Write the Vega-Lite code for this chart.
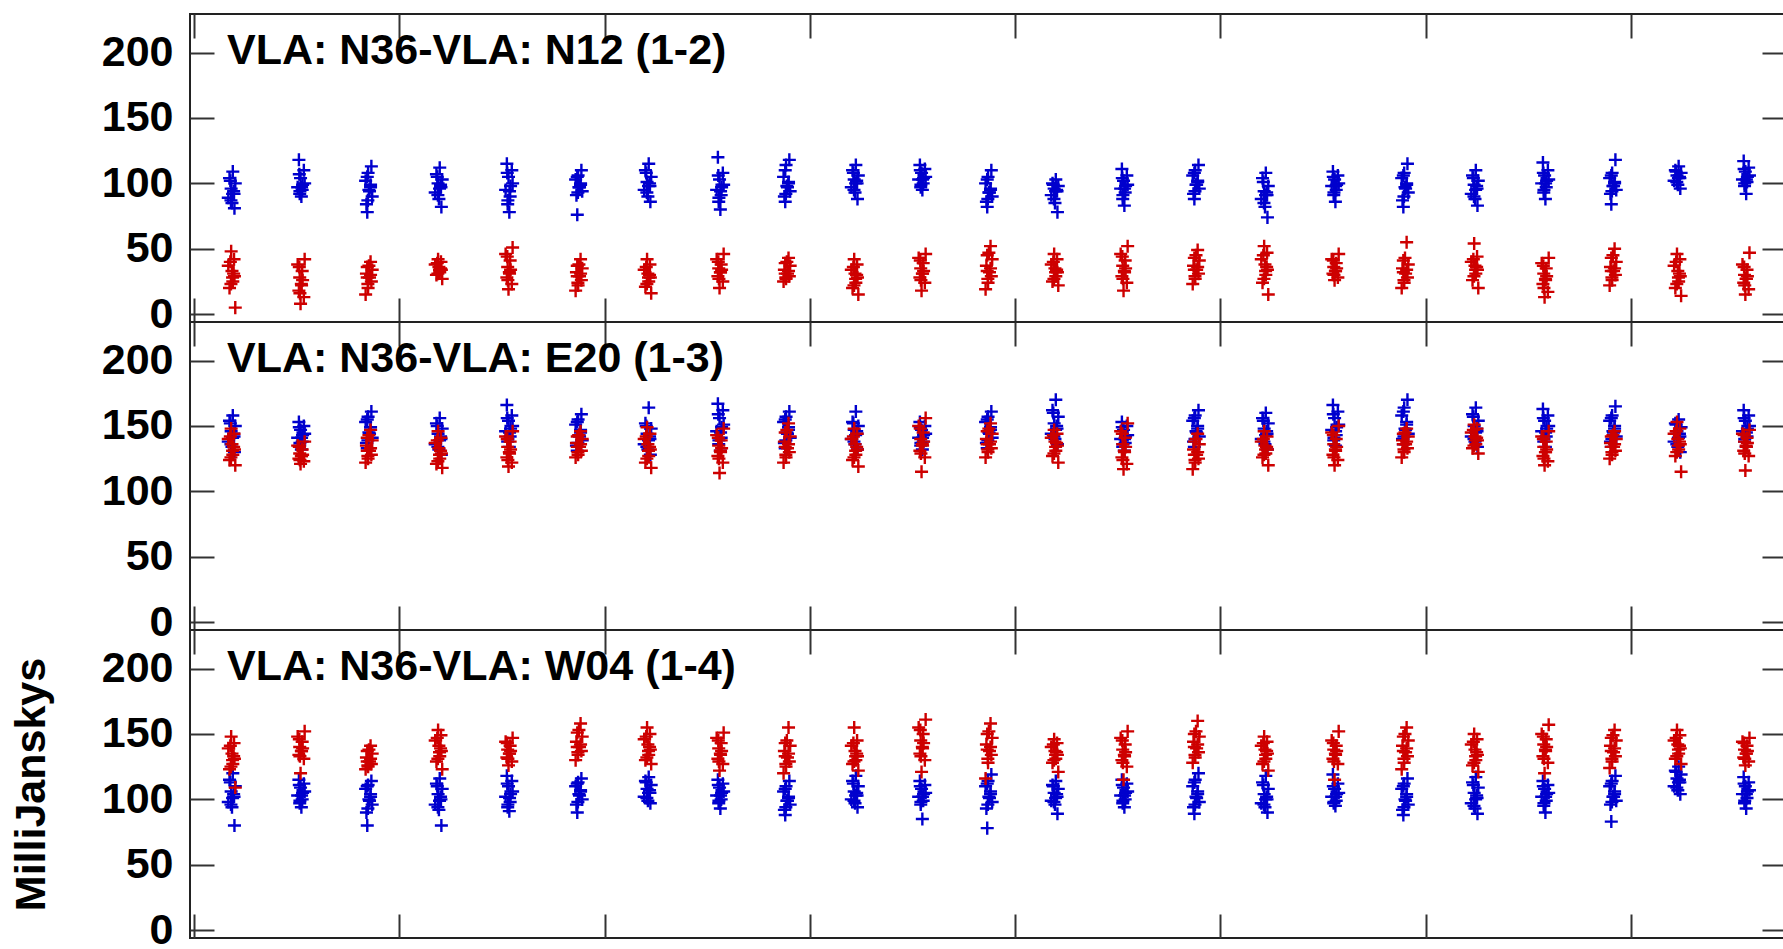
{
"$schema": "https://vega.github.io/schema/vega-lite/v6.json",
"padding": {"left": 9, "top": 12, "right": 0, "bottom": 0},
"background": "white",
"spacing": 0,
"bounds": "flush",
"config": {
 "view": {"stroke": "#222", "strokeWidth": 2},
 "axis": {"labelFont": "Liberation Sans", "labelFontWeight": "bold", "labelFontSize": 43, "labelColor": "#000", "tickColor": "#333", "tickWidth": 2, "domain": false, "grid": false, "titleFont": "Liberation Sans", "titleFontWeight": "bold", "titleFontSize": 43, "titleColor": "#000", "labelOverlap": false, "labelBound": false, "labelFlush": false},
 "axisX": {"minExtent": 0, "maxExtent": 0, "offset": 0}
},
"data": {"values": [
{"b":1,"p":"B","t":0.189,"v":109},{"b":1,"p":"B","t":0.173,"v":104},{"b":1,"p":"B","t":0.201,"v":100},{"b":1,"p":"B","t":0.181,"v":96},{"b":1,"p":"B","t":0.195,"v":92},{"b":1,"p":"B","t":0.167,"v":89},{"b":1,"p":"B","t":0.185,"v":85},{"b":1,"p":"B","t":0.197,"v":81},
{"b":1,"p":"B","t":0.511,"v":118},{"b":1,"p":"B","t":0.535,"v":110},{"b":1,"p":"B","t":0.519,"v":104},{"b":1,"p":"B","t":0.539,"v":100},{"b":1,"p":"B","t":0.505,"v":97},{"b":1,"p":"B","t":0.527,"v":95},{"b":1,"p":"B","t":0.515,"v":92},{"b":1,"p":"B","t":0.523,"v":90},
{"b":1,"p":"B","t":0.864,"v":113},{"b":1,"p":"B","t":0.848,"v":108},{"b":1,"p":"B","t":0.836,"v":102},{"b":1,"p":"B","t":0.860,"v":99},{"b":1,"p":"B","t":0.852,"v":95},{"b":1,"p":"B","t":0.868,"v":90},{"b":1,"p":"B","t":0.840,"v":84},{"b":1,"p":"B","t":0.844,"v":78},
{"b":1,"p":"B","t":1.197,"v":112},{"b":1,"p":"B","t":1.181,"v":107},{"b":1,"p":"B","t":1.209,"v":103},{"b":1,"p":"B","t":1.189,"v":100},{"b":1,"p":"B","t":1.203,"v":97},{"b":1,"p":"B","t":1.175,"v":93},{"b":1,"p":"B","t":1.193,"v":88},{"b":1,"p":"B","t":1.205,"v":82},
{"b":1,"p":"B","t":1.524,"v":115},{"b":1,"p":"B","t":1.548,"v":110},{"b":1,"p":"B","t":1.532,"v":105},{"b":1,"p":"B","t":1.552,"v":100},{"b":1,"p":"B","t":1.518,"v":95},{"b":1,"p":"B","t":1.540,"v":90},{"b":1,"p":"B","t":1.528,"v":84},{"b":1,"p":"B","t":1.536,"v":78},
{"b":1,"p":"B","t":1.887,"v":110},{"b":1,"p":"B","t":1.871,"v":106},{"b":1,"p":"B","t":1.859,"v":103},{"b":1,"p":"B","t":1.883,"v":100},{"b":1,"p":"B","t":1.875,"v":97},{"b":1,"p":"B","t":1.891,"v":94},{"b":1,"p":"B","t":1.863,"v":91},{"b":1,"p":"B","t":1.867,"v":76},
{"b":1,"p":"B","t":2.215,"v":115},{"b":1,"p":"B","t":2.199,"v":110},{"b":1,"p":"B","t":2.227,"v":105},{"b":1,"p":"B","t":2.207,"v":101},{"b":1,"p":"B","t":2.221,"v":98},{"b":1,"p":"B","t":2.193,"v":95},{"b":1,"p":"B","t":2.211,"v":90},{"b":1,"p":"B","t":2.223,"v":86},
{"b":1,"p":"B","t":2.552,"v":120},{"b":1,"p":"B","t":2.576,"v":108},{"b":1,"p":"B","t":2.560,"v":103},{"b":1,"p":"B","t":2.580,"v":99},{"b":1,"p":"B","t":2.546,"v":95},{"b":1,"p":"B","t":2.568,"v":91},{"b":1,"p":"B","t":2.556,"v":86},{"b":1,"p":"B","t":2.564,"v":80},
{"b":1,"p":"B","t":2.900,"v":118},{"b":1,"p":"B","t":2.884,"v":114},{"b":1,"p":"B","t":2.872,"v":105},{"b":1,"p":"B","t":2.896,"v":101},{"b":1,"p":"B","t":2.888,"v":98},{"b":1,"p":"B","t":2.904,"v":94},{"b":1,"p":"B","t":2.876,"v":90},{"b":1,"p":"B","t":2.880,"v":86},
{"b":1,"p":"B","t":3.224,"v":114},{"b":1,"p":"B","t":3.208,"v":110},{"b":1,"p":"B","t":3.236,"v":106},{"b":1,"p":"B","t":3.216,"v":103},{"b":1,"p":"B","t":3.230,"v":100},{"b":1,"p":"B","t":3.202,"v":97},{"b":1,"p":"B","t":3.220,"v":93},{"b":1,"p":"B","t":3.232,"v":88},
{"b":1,"p":"B","t":3.536,"v":114},{"b":1,"p":"B","t":3.560,"v":111},{"b":1,"p":"B","t":3.544,"v":108},{"b":1,"p":"B","t":3.564,"v":105},{"b":1,"p":"B","t":3.530,"v":103},{"b":1,"p":"B","t":3.552,"v":100},{"b":1,"p":"B","t":3.540,"v":97},{"b":1,"p":"B","t":3.548,"v":95},
{"b":1,"p":"B","t":3.884,"v":110},{"b":1,"p":"B","t":3.868,"v":105},{"b":1,"p":"B","t":3.856,"v":100},{"b":1,"p":"B","t":3.880,"v":96},{"b":1,"p":"B","t":3.872,"v":93},{"b":1,"p":"B","t":3.888,"v":90},{"b":1,"p":"B","t":3.860,"v":86},{"b":1,"p":"B","t":3.864,"v":82},
{"b":1,"p":"B","t":4.198,"v":103},{"b":1,"p":"B","t":4.182,"v":100},{"b":1,"p":"B","t":4.210,"v":98},{"b":1,"p":"B","t":4.190,"v":96},{"b":1,"p":"B","t":4.204,"v":94},{"b":1,"p":"B","t":4.176,"v":91},{"b":1,"p":"B","t":4.194,"v":85},{"b":1,"p":"B","t":4.206,"v":78},
{"b":1,"p":"B","t":4.520,"v":111},{"b":1,"p":"B","t":4.544,"v":106},{"b":1,"p":"B","t":4.528,"v":102},{"b":1,"p":"B","t":4.548,"v":99},{"b":1,"p":"B","t":4.514,"v":96},{"b":1,"p":"B","t":4.536,"v":93},{"b":1,"p":"B","t":4.524,"v":88},{"b":1,"p":"B","t":4.532,"v":83},
{"b":1,"p":"B","t":4.893,"v":114},{"b":1,"p":"B","t":4.877,"v":110},{"b":1,"p":"B","t":4.865,"v":106},{"b":1,"p":"B","t":4.889,"v":102},{"b":1,"p":"B","t":4.881,"v":99},{"b":1,"p":"B","t":4.897,"v":96},{"b":1,"p":"B","t":4.869,"v":92},{"b":1,"p":"B","t":4.873,"v":88},
{"b":1,"p":"B","t":5.221,"v":108},{"b":1,"p":"B","t":5.205,"v":104},{"b":1,"p":"B","t":5.233,"v":98},{"b":1,"p":"B","t":5.213,"v":94},{"b":1,"p":"B","t":5.227,"v":91},{"b":1,"p":"B","t":5.199,"v":88},{"b":1,"p":"B","t":5.217,"v":82},{"b":1,"p":"B","t":5.229,"v":74},
{"b":1,"p":"B","t":5.548,"v":109},{"b":1,"p":"B","t":5.572,"v":106},{"b":1,"p":"B","t":5.556,"v":103},{"b":1,"p":"B","t":5.576,"v":100},{"b":1,"p":"B","t":5.542,"v":98},{"b":1,"p":"B","t":5.564,"v":95},{"b":1,"p":"B","t":5.552,"v":91},{"b":1,"p":"B","t":5.560,"v":86},
{"b":1,"p":"B","t":5.911,"v":115},{"b":1,"p":"B","t":5.895,"v":108},{"b":1,"p":"B","t":5.883,"v":104},{"b":1,"p":"B","t":5.907,"v":100},{"b":1,"p":"B","t":5.899,"v":97},{"b":1,"p":"B","t":5.915,"v":93},{"b":1,"p":"B","t":5.887,"v":87},{"b":1,"p":"B","t":5.891,"v":82},
{"b":1,"p":"B","t":6.244,"v":110},{"b":1,"p":"B","t":6.228,"v":106},{"b":1,"p":"B","t":6.256,"v":102},{"b":1,"p":"B","t":6.236,"v":99},{"b":1,"p":"B","t":6.250,"v":96},{"b":1,"p":"B","t":6.222,"v":92},{"b":1,"p":"B","t":6.240,"v":88},{"b":1,"p":"B","t":6.252,"v":83},
{"b":1,"p":"B","t":6.571,"v":116},{"b":1,"p":"B","t":6.595,"v":110},{"b":1,"p":"B","t":6.579,"v":106},{"b":1,"p":"B","t":6.599,"v":103},{"b":1,"p":"B","t":6.565,"v":100},{"b":1,"p":"B","t":6.587,"v":97},{"b":1,"p":"B","t":6.575,"v":93},{"b":1,"p":"B","t":6.583,"v":88},
{"b":1,"p":"B","t":6.924,"v":118},{"b":1,"p":"B","t":6.908,"v":108},{"b":1,"p":"B","t":6.896,"v":104},{"b":1,"p":"B","t":6.920,"v":101},{"b":1,"p":"B","t":6.912,"v":98},{"b":1,"p":"B","t":6.928,"v":95},{"b":1,"p":"B","t":6.900,"v":92},{"b":1,"p":"B","t":6.904,"v":84},
{"b":1,"p":"B","t":7.232,"v":113},{"b":1,"p":"B","t":7.216,"v":110},{"b":1,"p":"B","t":7.244,"v":108},{"b":1,"p":"B","t":7.224,"v":106},{"b":1,"p":"B","t":7.238,"v":104},{"b":1,"p":"B","t":7.210,"v":102},{"b":1,"p":"B","t":7.228,"v":99},{"b":1,"p":"B","t":7.240,"v":96},
{"b":1,"p":"B","t":7.549,"v":117},{"b":1,"p":"B","t":7.573,"v":112},{"b":1,"p":"B","t":7.557,"v":109},{"b":1,"p":"B","t":7.577,"v":106},{"b":1,"p":"B","t":7.543,"v":103},{"b":1,"p":"B","t":7.565,"v":101},{"b":1,"p":"B","t":7.553,"v":98},{"b":1,"p":"B","t":7.561,"v":92},
{"b":1,"p":"R","t":0.181,"v":48},{"b":1,"p":"R","t":0.195,"v":42},{"b":1,"p":"R","t":0.167,"v":37},{"b":1,"p":"R","t":0.185,"v":33},{"b":1,"p":"R","t":0.197,"v":29},{"b":1,"p":"R","t":0.189,"v":25},{"b":1,"p":"R","t":0.173,"v":20},{"b":1,"p":"R","t":0.201,"v":5},
{"b":1,"p":"R","t":0.539,"v":42},{"b":1,"p":"R","t":0.505,"v":38},{"b":1,"p":"R","t":0.527,"v":33},{"b":1,"p":"R","t":0.515,"v":28},{"b":1,"p":"R","t":0.523,"v":23},{"b":1,"p":"R","t":0.511,"v":18},{"b":1,"p":"R","t":0.535,"v":13},{"b":1,"p":"R","t":0.519,"v":8},
{"b":1,"p":"R","t":0.860,"v":40},{"b":1,"p":"R","t":0.852,"v":37},{"b":1,"p":"R","t":0.868,"v":34},{"b":1,"p":"R","t":0.840,"v":31},{"b":1,"p":"R","t":0.844,"v":28},{"b":1,"p":"R","t":0.864,"v":25},{"b":1,"p":"R","t":0.848,"v":20},{"b":1,"p":"R","t":0.836,"v":15},
{"b":1,"p":"R","t":1.189,"v":42},{"b":1,"p":"R","t":1.203,"v":40},{"b":1,"p":"R","t":1.175,"v":38},{"b":1,"p":"R","t":1.193,"v":36},{"b":1,"p":"R","t":1.205,"v":34},{"b":1,"p":"R","t":1.197,"v":32},{"b":1,"p":"R","t":1.181,"v":30},{"b":1,"p":"R","t":1.209,"v":27},
{"b":1,"p":"R","t":1.552,"v":51},{"b":1,"p":"R","t":1.518,"v":46},{"b":1,"p":"R","t":1.540,"v":41},{"b":1,"p":"R","t":1.528,"v":36},{"b":1,"p":"R","t":1.536,"v":32},{"b":1,"p":"R","t":1.524,"v":28},{"b":1,"p":"R","t":1.548,"v":23},{"b":1,"p":"R","t":1.532,"v":19},
{"b":1,"p":"R","t":1.883,"v":42},{"b":1,"p":"R","t":1.875,"v":38},{"b":1,"p":"R","t":1.891,"v":35},{"b":1,"p":"R","t":1.863,"v":32},{"b":1,"p":"R","t":1.867,"v":29},{"b":1,"p":"R","t":1.887,"v":26},{"b":1,"p":"R","t":1.871,"v":22},{"b":1,"p":"R","t":1.859,"v":18},
{"b":1,"p":"R","t":2.207,"v":42},{"b":1,"p":"R","t":2.221,"v":38},{"b":1,"p":"R","t":2.193,"v":34},{"b":1,"p":"R","t":2.211,"v":31},{"b":1,"p":"R","t":2.223,"v":28},{"b":1,"p":"R","t":2.215,"v":25},{"b":1,"p":"R","t":2.199,"v":21},{"b":1,"p":"R","t":2.227,"v":16},
{"b":1,"p":"R","t":2.580,"v":46},{"b":1,"p":"R","t":2.546,"v":42},{"b":1,"p":"R","t":2.568,"v":38},{"b":1,"p":"R","t":2.556,"v":35},{"b":1,"p":"R","t":2.564,"v":32},{"b":1,"p":"R","t":2.552,"v":29},{"b":1,"p":"R","t":2.576,"v":25},{"b":1,"p":"R","t":2.560,"v":20},
{"b":1,"p":"R","t":2.896,"v":43},{"b":1,"p":"R","t":2.888,"v":40},{"b":1,"p":"R","t":2.904,"v":37},{"b":1,"p":"R","t":2.876,"v":34},{"b":1,"p":"R","t":2.880,"v":31},{"b":1,"p":"R","t":2.900,"v":29},{"b":1,"p":"R","t":2.884,"v":27},{"b":1,"p":"R","t":2.872,"v":25},
{"b":1,"p":"R","t":3.216,"v":42},{"b":1,"p":"R","t":3.230,"v":38},{"b":1,"p":"R","t":3.202,"v":34},{"b":1,"p":"R","t":3.220,"v":31},{"b":1,"p":"R","t":3.232,"v":28},{"b":1,"p":"R","t":3.224,"v":24},{"b":1,"p":"R","t":3.208,"v":20},{"b":1,"p":"R","t":3.236,"v":15},
{"b":1,"p":"R","t":3.564,"v":46},{"b":1,"p":"R","t":3.530,"v":43},{"b":1,"p":"R","t":3.552,"v":39},{"b":1,"p":"R","t":3.540,"v":35},{"b":1,"p":"R","t":3.548,"v":31},{"b":1,"p":"R","t":3.536,"v":28},{"b":1,"p":"R","t":3.560,"v":24},{"b":1,"p":"R","t":3.544,"v":18},
{"b":1,"p":"R","t":3.880,"v":52},{"b":1,"p":"R","t":3.872,"v":47},{"b":1,"p":"R","t":3.888,"v":42},{"b":1,"p":"R","t":3.860,"v":37},{"b":1,"p":"R","t":3.864,"v":33},{"b":1,"p":"R","t":3.884,"v":29},{"b":1,"p":"R","t":3.868,"v":24},{"b":1,"p":"R","t":3.856,"v":19},
{"b":1,"p":"R","t":4.190,"v":46},{"b":1,"p":"R","t":4.204,"v":42},{"b":1,"p":"R","t":4.176,"v":38},{"b":1,"p":"R","t":4.194,"v":35},{"b":1,"p":"R","t":4.206,"v":32},{"b":1,"p":"R","t":4.198,"v":29},{"b":1,"p":"R","t":4.182,"v":25},{"b":1,"p":"R","t":4.210,"v":22},
{"b":1,"p":"R","t":4.548,"v":52},{"b":1,"p":"R","t":4.514,"v":46},{"b":1,"p":"R","t":4.536,"v":41},{"b":1,"p":"R","t":4.524,"v":37},{"b":1,"p":"R","t":4.532,"v":33},{"b":1,"p":"R","t":4.520,"v":29},{"b":1,"p":"R","t":4.544,"v":24},{"b":1,"p":"R","t":4.528,"v":18},
{"b":1,"p":"R","t":4.889,"v":49},{"b":1,"p":"R","t":4.881,"v":45},{"b":1,"p":"R","t":4.897,"v":41},{"b":1,"p":"R","t":4.869,"v":37},{"b":1,"p":"R","t":4.873,"v":34},{"b":1,"p":"R","t":4.893,"v":31},{"b":1,"p":"R","t":4.877,"v":27},{"b":1,"p":"R","t":4.865,"v":23},
{"b":1,"p":"R","t":5.213,"v":52},{"b":1,"p":"R","t":5.227,"v":47},{"b":1,"p":"R","t":5.199,"v":42},{"b":1,"p":"R","t":5.217,"v":38},{"b":1,"p":"R","t":5.229,"v":34},{"b":1,"p":"R","t":5.221,"v":30},{"b":1,"p":"R","t":5.205,"v":24},{"b":1,"p":"R","t":5.233,"v":15},
{"b":1,"p":"R","t":5.576,"v":46},{"b":1,"p":"R","t":5.542,"v":42},{"b":1,"p":"R","t":5.564,"v":39},{"b":1,"p":"R","t":5.552,"v":36},{"b":1,"p":"R","t":5.560,"v":33},{"b":1,"p":"R","t":5.548,"v":31},{"b":1,"p":"R","t":5.572,"v":28},{"b":1,"p":"R","t":5.556,"v":26},
{"b":1,"p":"R","t":5.907,"v":55},{"b":1,"p":"R","t":5.899,"v":43},{"b":1,"p":"R","t":5.915,"v":38},{"b":1,"p":"R","t":5.887,"v":35},{"b":1,"p":"R","t":5.891,"v":32},{"b":1,"p":"R","t":5.911,"v":28},{"b":1,"p":"R","t":5.895,"v":24},{"b":1,"p":"R","t":5.883,"v":20},
{"b":1,"p":"R","t":6.236,"v":54},{"b":1,"p":"R","t":6.250,"v":44},{"b":1,"p":"R","t":6.222,"v":40},{"b":1,"p":"R","t":6.240,"v":37},{"b":1,"p":"R","t":6.252,"v":34},{"b":1,"p":"R","t":6.244,"v":31},{"b":1,"p":"R","t":6.228,"v":26},{"b":1,"p":"R","t":6.256,"v":20},
{"b":1,"p":"R","t":6.599,"v":43},{"b":1,"p":"R","t":6.565,"v":39},{"b":1,"p":"R","t":6.587,"v":35},{"b":1,"p":"R","t":6.575,"v":31},{"b":1,"p":"R","t":6.583,"v":27},{"b":1,"p":"R","t":6.571,"v":23},{"b":1,"p":"R","t":6.595,"v":17},{"b":1,"p":"R","t":6.579,"v":13},
{"b":1,"p":"R","t":6.920,"v":50},{"b":1,"p":"R","t":6.912,"v":45},{"b":1,"p":"R","t":6.928,"v":40},{"b":1,"p":"R","t":6.900,"v":36},{"b":1,"p":"R","t":6.904,"v":33},{"b":1,"p":"R","t":6.924,"v":30},{"b":1,"p":"R","t":6.908,"v":26},{"b":1,"p":"R","t":6.896,"v":22},
{"b":1,"p":"R","t":7.224,"v":46},{"b":1,"p":"R","t":7.238,"v":42},{"b":1,"p":"R","t":7.210,"v":37},{"b":1,"p":"R","t":7.228,"v":33},{"b":1,"p":"R","t":7.240,"v":29},{"b":1,"p":"R","t":7.232,"v":25},{"b":1,"p":"R","t":7.216,"v":20},{"b":1,"p":"R","t":7.244,"v":14},
{"b":1,"p":"R","t":7.577,"v":47},{"b":1,"p":"R","t":7.543,"v":38},{"b":1,"p":"R","t":7.565,"v":34},{"b":1,"p":"R","t":7.553,"v":30},{"b":1,"p":"R","t":7.561,"v":27},{"b":1,"p":"R","t":7.549,"v":24},{"b":1,"p":"R","t":7.573,"v":19},{"b":1,"p":"R","t":7.557,"v":15},
{"b":2,"p":"B","t":0.189,"v":158},{"b":2,"p":"B","t":0.173,"v":154},{"b":2,"p":"B","t":0.201,"v":150},{"b":2,"p":"B","t":0.181,"v":146},{"b":2,"p":"B","t":0.195,"v":142},{"b":2,"p":"B","t":0.167,"v":138},{"b":2,"p":"B","t":0.185,"v":134},{"b":2,"p":"B","t":0.197,"v":130},
{"b":2,"p":"B","t":0.511,"v":153},{"b":2,"p":"B","t":0.535,"v":150},{"b":2,"p":"B","t":0.519,"v":147},{"b":2,"p":"B","t":0.539,"v":144},{"b":2,"p":"B","t":0.505,"v":141},{"b":2,"p":"B","t":0.527,"v":138},{"b":2,"p":"B","t":0.515,"v":135},{"b":2,"p":"B","t":0.523,"v":132},
{"b":2,"p":"B","t":0.864,"v":161},{"b":2,"p":"B","t":0.848,"v":157},{"b":2,"p":"B","t":0.836,"v":153},{"b":2,"p":"B","t":0.860,"v":149},{"b":2,"p":"B","t":0.852,"v":145},{"b":2,"p":"B","t":0.868,"v":141},{"b":2,"p":"B","t":0.840,"v":137},{"b":2,"p":"B","t":0.844,"v":133},
{"b":2,"p":"B","t":1.197,"v":156},{"b":2,"p":"B","t":1.181,"v":152},{"b":2,"p":"B","t":1.209,"v":148},{"b":2,"p":"B","t":1.189,"v":144},{"b":2,"p":"B","t":1.203,"v":140},{"b":2,"p":"B","t":1.175,"v":136},{"b":2,"p":"B","t":1.193,"v":132},{"b":2,"p":"B","t":1.205,"v":128},
{"b":2,"p":"B","t":1.524,"v":166},{"b":2,"p":"B","t":1.548,"v":158},{"b":2,"p":"B","t":1.532,"v":154},{"b":2,"p":"B","t":1.552,"v":150},{"b":2,"p":"B","t":1.518,"v":146},{"b":2,"p":"B","t":1.540,"v":142},{"b":2,"p":"B","t":1.528,"v":138},{"b":2,"p":"B","t":1.536,"v":134},
{"b":2,"p":"B","t":1.887,"v":159},{"b":2,"p":"B","t":1.871,"v":155},{"b":2,"p":"B","t":1.859,"v":151},{"b":2,"p":"B","t":1.883,"v":147},{"b":2,"p":"B","t":1.875,"v":143},{"b":2,"p":"B","t":1.891,"v":139},{"b":2,"p":"B","t":1.863,"v":135},{"b":2,"p":"B","t":1.867,"v":131},
{"b":2,"p":"B","t":2.215,"v":164},{"b":2,"p":"B","t":2.199,"v":152},{"b":2,"p":"B","t":2.227,"v":148},{"b":2,"p":"B","t":2.207,"v":144},{"b":2,"p":"B","t":2.221,"v":140},{"b":2,"p":"B","t":2.193,"v":136},{"b":2,"p":"B","t":2.211,"v":132},{"b":2,"p":"B","t":2.223,"v":128},
{"b":2,"p":"B","t":2.552,"v":167},{"b":2,"p":"B","t":2.576,"v":162},{"b":2,"p":"B","t":2.560,"v":156},{"b":2,"p":"B","t":2.580,"v":151},{"b":2,"p":"B","t":2.546,"v":146},{"b":2,"p":"B","t":2.568,"v":141},{"b":2,"p":"B","t":2.556,"v":136},{"b":2,"p":"B","t":2.564,"v":131},
{"b":2,"p":"B","t":2.900,"v":161},{"b":2,"p":"B","t":2.884,"v":157},{"b":2,"p":"B","t":2.872,"v":153},{"b":2,"p":"B","t":2.896,"v":149},{"b":2,"p":"B","t":2.888,"v":145},{"b":2,"p":"B","t":2.904,"v":141},{"b":2,"p":"B","t":2.876,"v":137},{"b":2,"p":"B","t":2.880,"v":133},
{"b":2,"p":"B","t":3.224,"v":161},{"b":2,"p":"B","t":3.208,"v":153},{"b":2,"p":"B","t":3.236,"v":150},{"b":2,"p":"B","t":3.216,"v":147},{"b":2,"p":"B","t":3.230,"v":144},{"b":2,"p":"B","t":3.202,"v":140},{"b":2,"p":"B","t":3.220,"v":136},{"b":2,"p":"B","t":3.232,"v":132},
{"b":2,"p":"B","t":3.536,"v":153},{"b":2,"p":"B","t":3.560,"v":150},{"b":2,"p":"B","t":3.544,"v":147},{"b":2,"p":"B","t":3.564,"v":144},{"b":2,"p":"B","t":3.530,"v":141},{"b":2,"p":"B","t":3.552,"v":138},{"b":2,"p":"B","t":3.540,"v":135},{"b":2,"p":"B","t":3.548,"v":132},
{"b":2,"p":"B","t":3.884,"v":161},{"b":2,"p":"B","t":3.868,"v":157},{"b":2,"p":"B","t":3.856,"v":153},{"b":2,"p":"B","t":3.880,"v":149},{"b":2,"p":"B","t":3.872,"v":145},{"b":2,"p":"B","t":3.888,"v":141},{"b":2,"p":"B","t":3.860,"v":137},{"b":2,"p":"B","t":3.864,"v":133},
{"b":2,"p":"B","t":4.198,"v":170},{"b":2,"p":"B","t":4.182,"v":162},{"b":2,"p":"B","t":4.210,"v":157},{"b":2,"p":"B","t":4.190,"v":152},{"b":2,"p":"B","t":4.204,"v":148},{"b":2,"p":"B","t":4.176,"v":144},{"b":2,"p":"B","t":4.194,"v":140},{"b":2,"p":"B","t":4.206,"v":136},
{"b":2,"p":"B","t":4.520,"v":153},{"b":2,"p":"B","t":4.544,"v":150},{"b":2,"p":"B","t":4.528,"v":147},{"b":2,"p":"B","t":4.548,"v":143},{"b":2,"p":"B","t":4.514,"v":140},{"b":2,"p":"B","t":4.536,"v":137},{"b":2,"p":"B","t":4.524,"v":134},{"b":2,"p":"B","t":4.532,"v":131},
{"b":2,"p":"B","t":4.893,"v":162},{"b":2,"p":"B","t":4.877,"v":158},{"b":2,"p":"B","t":4.865,"v":154},{"b":2,"p":"B","t":4.889,"v":150},{"b":2,"p":"B","t":4.881,"v":146},{"b":2,"p":"B","t":4.897,"v":142},{"b":2,"p":"B","t":4.869,"v":138},{"b":2,"p":"B","t":4.873,"v":134},
{"b":2,"p":"B","t":5.221,"v":160},{"b":2,"p":"B","t":5.205,"v":156},{"b":2,"p":"B","t":5.233,"v":152},{"b":2,"p":"B","t":5.213,"v":148},{"b":2,"p":"B","t":5.227,"v":144},{"b":2,"p":"B","t":5.199,"v":140},{"b":2,"p":"B","t":5.217,"v":136},{"b":2,"p":"B","t":5.229,"v":132},
{"b":2,"p":"B","t":5.548,"v":166},{"b":2,"p":"B","t":5.572,"v":161},{"b":2,"p":"B","t":5.556,"v":156},{"b":2,"p":"B","t":5.576,"v":151},{"b":2,"p":"B","t":5.542,"v":147},{"b":2,"p":"B","t":5.564,"v":143},{"b":2,"p":"B","t":5.552,"v":139},{"b":2,"p":"B","t":5.560,"v":135},
{"b":2,"p":"B","t":5.911,"v":170},{"b":2,"p":"B","t":5.895,"v":164},{"b":2,"p":"B","t":5.883,"v":158},{"b":2,"p":"B","t":5.907,"v":153},{"b":2,"p":"B","t":5.899,"v":148},{"b":2,"p":"B","t":5.915,"v":144},{"b":2,"p":"B","t":5.887,"v":140},{"b":2,"p":"B","t":5.891,"v":136},
{"b":2,"p":"B","t":6.244,"v":164},{"b":2,"p":"B","t":6.228,"v":159},{"b":2,"p":"B","t":6.256,"v":154},{"b":2,"p":"B","t":6.236,"v":150},{"b":2,"p":"B","t":6.250,"v":146},{"b":2,"p":"B","t":6.222,"v":142},{"b":2,"p":"B","t":6.240,"v":138},{"b":2,"p":"B","t":6.252,"v":134},
{"b":2,"p":"B","t":6.571,"v":163},{"b":2,"p":"B","t":6.595,"v":158},{"b":2,"p":"B","t":6.579,"v":154},{"b":2,"p":"B","t":6.599,"v":150},{"b":2,"p":"B","t":6.565,"v":146},{"b":2,"p":"B","t":6.587,"v":142},{"b":2,"p":"B","t":6.575,"v":138},{"b":2,"p":"B","t":6.583,"v":134},
{"b":2,"p":"B","t":6.924,"v":165},{"b":2,"p":"B","t":6.908,"v":158},{"b":2,"p":"B","t":6.896,"v":154},{"b":2,"p":"B","t":6.920,"v":150},{"b":2,"p":"B","t":6.912,"v":146},{"b":2,"p":"B","t":6.928,"v":142},{"b":2,"p":"B","t":6.900,"v":138},{"b":2,"p":"B","t":6.904,"v":134},
{"b":2,"p":"B","t":7.232,"v":155},{"b":2,"p":"B","t":7.216,"v":152},{"b":2,"p":"B","t":7.244,"v":149},{"b":2,"p":"B","t":7.224,"v":146},{"b":2,"p":"B","t":7.238,"v":142},{"b":2,"p":"B","t":7.210,"v":138},{"b":2,"p":"B","t":7.228,"v":134},{"b":2,"p":"B","t":7.240,"v":130},
{"b":2,"p":"B","t":7.549,"v":162},{"b":2,"p":"B","t":7.573,"v":158},{"b":2,"p":"B","t":7.557,"v":154},{"b":2,"p":"B","t":7.577,"v":150},{"b":2,"p":"B","t":7.543,"v":146},{"b":2,"p":"B","t":7.565,"v":142},{"b":2,"p":"B","t":7.553,"v":138},{"b":2,"p":"B","t":7.561,"v":134},
{"b":2,"p":"R","t":0.181,"v":148},{"b":2,"p":"R","t":0.195,"v":144},{"b":2,"p":"R","t":0.167,"v":140},{"b":2,"p":"R","t":0.185,"v":136},{"b":2,"p":"R","t":0.197,"v":132},{"b":2,"p":"R","t":0.189,"v":128},{"b":2,"p":"R","t":0.173,"v":124},{"b":2,"p":"R","t":0.201,"v":120},
{"b":2,"p":"R","t":0.539,"v":138},{"b":2,"p":"R","t":0.505,"v":135},{"b":2,"p":"R","t":0.527,"v":132},{"b":2,"p":"R","t":0.515,"v":129},{"b":2,"p":"R","t":0.523,"v":127},{"b":2,"p":"R","t":0.511,"v":125},{"b":2,"p":"R","t":0.535,"v":123},{"b":2,"p":"R","t":0.519,"v":121},
{"b":2,"p":"R","t":0.860,"v":147},{"b":2,"p":"R","t":0.852,"v":143},{"b":2,"p":"R","t":0.868,"v":139},{"b":2,"p":"R","t":0.840,"v":135},{"b":2,"p":"R","t":0.844,"v":131},{"b":2,"p":"R","t":0.864,"v":128},{"b":2,"p":"R","t":0.848,"v":125},{"b":2,"p":"R","t":0.836,"v":122},
{"b":2,"p":"R","t":1.189,"v":146},{"b":2,"p":"R","t":1.203,"v":141},{"b":2,"p":"R","t":1.175,"v":137},{"b":2,"p":"R","t":1.193,"v":133},{"b":2,"p":"R","t":1.205,"v":129},{"b":2,"p":"R","t":1.197,"v":125},{"b":2,"p":"R","t":1.181,"v":121},{"b":2,"p":"R","t":1.209,"v":118},
{"b":2,"p":"R","t":1.552,"v":146},{"b":2,"p":"R","t":1.518,"v":142},{"b":2,"p":"R","t":1.540,"v":138},{"b":2,"p":"R","t":1.528,"v":134},{"b":2,"p":"R","t":1.536,"v":130},{"b":2,"p":"R","t":1.524,"v":126},{"b":2,"p":"R","t":1.548,"v":122},{"b":2,"p":"R","t":1.532,"v":119},
{"b":2,"p":"R","t":1.883,"v":146},{"b":2,"p":"R","t":1.875,"v":143},{"b":2,"p":"R","t":1.891,"v":140},{"b":2,"p":"R","t":1.863,"v":137},{"b":2,"p":"R","t":1.867,"v":134},{"b":2,"p":"R","t":1.887,"v":131},{"b":2,"p":"R","t":1.871,"v":128},{"b":2,"p":"R","t":1.859,"v":126},
{"b":2,"p":"R","t":2.207,"v":149},{"b":2,"p":"R","t":2.221,"v":144},{"b":2,"p":"R","t":2.193,"v":140},{"b":2,"p":"R","t":2.211,"v":136},{"b":2,"p":"R","t":2.223,"v":132},{"b":2,"p":"R","t":2.215,"v":127},{"b":2,"p":"R","t":2.199,"v":122},{"b":2,"p":"R","t":2.227,"v":118},
{"b":2,"p":"R","t":2.580,"v":148},{"b":2,"p":"R","t":2.546,"v":143},{"b":2,"p":"R","t":2.568,"v":139},{"b":2,"p":"R","t":2.556,"v":135},{"b":2,"p":"R","t":2.564,"v":131},{"b":2,"p":"R","t":2.552,"v":127},{"b":2,"p":"R","t":2.576,"v":122},{"b":2,"p":"R","t":2.560,"v":114},
{"b":2,"p":"R","t":2.896,"v":152},{"b":2,"p":"R","t":2.888,"v":147},{"b":2,"p":"R","t":2.904,"v":142},{"b":2,"p":"R","t":2.876,"v":138},{"b":2,"p":"R","t":2.880,"v":134},{"b":2,"p":"R","t":2.900,"v":130},{"b":2,"p":"R","t":2.884,"v":126},{"b":2,"p":"R","t":2.872,"v":122},
{"b":2,"p":"R","t":3.216,"v":148},{"b":2,"p":"R","t":3.230,"v":144},{"b":2,"p":"R","t":3.202,"v":140},{"b":2,"p":"R","t":3.220,"v":136},{"b":2,"p":"R","t":3.232,"v":132},{"b":2,"p":"R","t":3.224,"v":128},{"b":2,"p":"R","t":3.208,"v":124},{"b":2,"p":"R","t":3.236,"v":119},
{"b":2,"p":"R","t":3.564,"v":156},{"b":2,"p":"R","t":3.530,"v":150},{"b":2,"p":"R","t":3.552,"v":145},{"b":2,"p":"R","t":3.540,"v":140},{"b":2,"p":"R","t":3.548,"v":136},{"b":2,"p":"R","t":3.536,"v":131},{"b":2,"p":"R","t":3.560,"v":126},{"b":2,"p":"R","t":3.544,"v":115},
{"b":2,"p":"R","t":3.880,"v":152},{"b":2,"p":"R","t":3.872,"v":148},{"b":2,"p":"R","t":3.888,"v":144},{"b":2,"p":"R","t":3.860,"v":140},{"b":2,"p":"R","t":3.864,"v":136},{"b":2,"p":"R","t":3.884,"v":133},{"b":2,"p":"R","t":3.868,"v":130},{"b":2,"p":"R","t":3.856,"v":126},
{"b":2,"p":"R","t":4.190,"v":147},{"b":2,"p":"R","t":4.204,"v":144},{"b":2,"p":"R","t":4.176,"v":141},{"b":2,"p":"R","t":4.194,"v":138},{"b":2,"p":"R","t":4.206,"v":135},{"b":2,"p":"R","t":4.198,"v":131},{"b":2,"p":"R","t":4.182,"v":127},{"b":2,"p":"R","t":4.210,"v":122},
{"b":2,"p":"R","t":4.548,"v":152},{"b":2,"p":"R","t":4.514,"v":146},{"b":2,"p":"R","t":4.536,"v":141},{"b":2,"p":"R","t":4.524,"v":136},{"b":2,"p":"R","t":4.532,"v":131},{"b":2,"p":"R","t":4.520,"v":126},{"b":2,"p":"R","t":4.544,"v":121},{"b":2,"p":"R","t":4.528,"v":117},
{"b":2,"p":"R","t":4.889,"v":144},{"b":2,"p":"R","t":4.881,"v":140},{"b":2,"p":"R","t":4.897,"v":136},{"b":2,"p":"R","t":4.869,"v":132},{"b":2,"p":"R","t":4.873,"v":128},{"b":2,"p":"R","t":4.893,"v":125},{"b":2,"p":"R","t":4.877,"v":122},{"b":2,"p":"R","t":4.865,"v":117},
{"b":2,"p":"R","t":5.213,"v":146},{"b":2,"p":"R","t":5.227,"v":142},{"b":2,"p":"R","t":5.199,"v":138},{"b":2,"p":"R","t":5.217,"v":135},{"b":2,"p":"R","t":5.229,"v":132},{"b":2,"p":"R","t":5.221,"v":129},{"b":2,"p":"R","t":5.205,"v":126},{"b":2,"p":"R","t":5.233,"v":120},
{"b":2,"p":"R","t":5.576,"v":150},{"b":2,"p":"R","t":5.542,"v":145},{"b":2,"p":"R","t":5.564,"v":140},{"b":2,"p":"R","t":5.552,"v":136},{"b":2,"p":"R","t":5.560,"v":132},{"b":2,"p":"R","t":5.548,"v":128},{"b":2,"p":"R","t":5.572,"v":124},{"b":2,"p":"R","t":5.556,"v":120},
{"b":2,"p":"R","t":5.907,"v":148},{"b":2,"p":"R","t":5.899,"v":145},{"b":2,"p":"R","t":5.915,"v":142},{"b":2,"p":"R","t":5.887,"v":139},{"b":2,"p":"R","t":5.891,"v":136},{"b":2,"p":"R","t":5.911,"v":133},{"b":2,"p":"R","t":5.895,"v":130},{"b":2,"p":"R","t":5.883,"v":126},
{"b":2,"p":"R","t":6.236,"v":151},{"b":2,"p":"R","t":6.250,"v":148},{"b":2,"p":"R","t":6.222,"v":145},{"b":2,"p":"R","t":6.240,"v":142},{"b":2,"p":"R","t":6.252,"v":139},{"b":2,"p":"R","t":6.244,"v":136},{"b":2,"p":"R","t":6.228,"v":133},{"b":2,"p":"R","t":6.256,"v":129},
{"b":2,"p":"R","t":6.599,"v":146},{"b":2,"p":"R","t":6.565,"v":142},{"b":2,"p":"R","t":6.587,"v":138},{"b":2,"p":"R","t":6.575,"v":134},{"b":2,"p":"R","t":6.583,"v":130},{"b":2,"p":"R","t":6.571,"v":127},{"b":2,"p":"R","t":6.595,"v":123},{"b":2,"p":"R","t":6.579,"v":120},
{"b":2,"p":"R","t":6.920,"v":146},{"b":2,"p":"R","t":6.912,"v":143},{"b":2,"p":"R","t":6.928,"v":140},{"b":2,"p":"R","t":6.900,"v":137},{"b":2,"p":"R","t":6.904,"v":134},{"b":2,"p":"R","t":6.924,"v":131},{"b":2,"p":"R","t":6.908,"v":128},{"b":2,"p":"R","t":6.896,"v":125},
{"b":2,"p":"R","t":7.224,"v":153},{"b":2,"p":"R","t":7.238,"v":148},{"b":2,"p":"R","t":7.210,"v":144},{"b":2,"p":"R","t":7.228,"v":140},{"b":2,"p":"R","t":7.240,"v":136},{"b":2,"p":"R","t":7.232,"v":132},{"b":2,"p":"R","t":7.216,"v":127},{"b":2,"p":"R","t":7.244,"v":115},
{"b":2,"p":"R","t":7.577,"v":147},{"b":2,"p":"R","t":7.543,"v":144},{"b":2,"p":"R","t":7.565,"v":141},{"b":2,"p":"R","t":7.553,"v":138},{"b":2,"p":"R","t":7.561,"v":135},{"b":2,"p":"R","t":7.549,"v":131},{"b":2,"p":"R","t":7.573,"v":127},{"b":2,"p":"R","t":7.557,"v":116},
{"b":3,"p":"B","t":0.189,"v":120},{"b":3,"p":"B","t":0.173,"v":115},{"b":3,"p":"B","t":0.201,"v":110},{"b":3,"p":"B","t":0.181,"v":106},{"b":3,"p":"B","t":0.195,"v":102},{"b":3,"p":"B","t":0.167,"v":98},{"b":3,"p":"B","t":0.185,"v":94},{"b":3,"p":"B","t":0.197,"v":80},
{"b":3,"p":"B","t":0.511,"v":115},{"b":3,"p":"B","t":0.535,"v":112},{"b":3,"p":"B","t":0.519,"v":109},{"b":3,"p":"B","t":0.539,"v":106},{"b":3,"p":"B","t":0.505,"v":103},{"b":3,"p":"B","t":0.527,"v":100},{"b":3,"p":"B","t":0.515,"v":97},{"b":3,"p":"B","t":0.523,"v":94},
{"b":3,"p":"B","t":0.864,"v":114},{"b":3,"p":"B","t":0.848,"v":111},{"b":3,"p":"B","t":0.836,"v":108},{"b":3,"p":"B","t":0.860,"v":104},{"b":3,"p":"B","t":0.852,"v":100},{"b":3,"p":"B","t":0.868,"v":96},{"b":3,"p":"B","t":0.840,"v":90},{"b":3,"p":"B","t":0.844,"v":80},
{"b":3,"p":"B","t":1.197,"v":116},{"b":3,"p":"B","t":1.181,"v":112},{"b":3,"p":"B","t":1.209,"v":108},{"b":3,"p":"B","t":1.189,"v":104},{"b":3,"p":"B","t":1.203,"v":100},{"b":3,"p":"B","t":1.175,"v":96},{"b":3,"p":"B","t":1.193,"v":92},{"b":3,"p":"B","t":1.205,"v":80},
{"b":3,"p":"B","t":1.524,"v":118},{"b":3,"p":"B","t":1.548,"v":114},{"b":3,"p":"B","t":1.532,"v":110},{"b":3,"p":"B","t":1.552,"v":106},{"b":3,"p":"B","t":1.518,"v":102},{"b":3,"p":"B","t":1.540,"v":98},{"b":3,"p":"B","t":1.528,"v":94},{"b":3,"p":"B","t":1.536,"v":91},
{"b":3,"p":"B","t":1.887,"v":116},{"b":3,"p":"B","t":1.871,"v":113},{"b":3,"p":"B","t":1.859,"v":110},{"b":3,"p":"B","t":1.883,"v":107},{"b":3,"p":"B","t":1.875,"v":104},{"b":3,"p":"B","t":1.891,"v":100},{"b":3,"p":"B","t":1.863,"v":96},{"b":3,"p":"B","t":1.867,"v":90},
{"b":3,"p":"B","t":2.215,"v":117},{"b":3,"p":"B","t":2.199,"v":114},{"b":3,"p":"B","t":2.227,"v":111},{"b":3,"p":"B","t":2.207,"v":108},{"b":3,"p":"B","t":2.221,"v":105},{"b":3,"p":"B","t":2.193,"v":102},{"b":3,"p":"B","t":2.211,"v":99},{"b":3,"p":"B","t":2.223,"v":97},
{"b":3,"p":"B","t":2.552,"v":115},{"b":3,"p":"B","t":2.576,"v":112},{"b":3,"p":"B","t":2.560,"v":109},{"b":3,"p":"B","t":2.580,"v":106},{"b":3,"p":"B","t":2.546,"v":103},{"b":3,"p":"B","t":2.568,"v":100},{"b":3,"p":"B","t":2.556,"v":97},{"b":3,"p":"B","t":2.564,"v":93},
{"b":3,"p":"B","t":2.900,"v":114},{"b":3,"p":"B","t":2.884,"v":110},{"b":3,"p":"B","t":2.872,"v":106},{"b":3,"p":"B","t":2.896,"v":102},{"b":3,"p":"B","t":2.888,"v":99},{"b":3,"p":"B","t":2.904,"v":96},{"b":3,"p":"B","t":2.876,"v":92},{"b":3,"p":"B","t":2.880,"v":88},
{"b":3,"p":"B","t":3.224,"v":118},{"b":3,"p":"B","t":3.208,"v":114},{"b":3,"p":"B","t":3.236,"v":110},{"b":3,"p":"B","t":3.216,"v":106},{"b":3,"p":"B","t":3.230,"v":103},{"b":3,"p":"B","t":3.202,"v":100},{"b":3,"p":"B","t":3.220,"v":97},{"b":3,"p":"B","t":3.232,"v":94},
{"b":3,"p":"B","t":3.536,"v":114},{"b":3,"p":"B","t":3.560,"v":111},{"b":3,"p":"B","t":3.544,"v":108},{"b":3,"p":"B","t":3.564,"v":105},{"b":3,"p":"B","t":3.530,"v":102},{"b":3,"p":"B","t":3.552,"v":99},{"b":3,"p":"B","t":3.540,"v":96},{"b":3,"p":"B","t":3.548,"v":85},
{"b":3,"p":"B","t":3.884,"v":119},{"b":3,"p":"B","t":3.868,"v":114},{"b":3,"p":"B","t":3.856,"v":110},{"b":3,"p":"B","t":3.880,"v":106},{"b":3,"p":"B","t":3.872,"v":102},{"b":3,"p":"B","t":3.888,"v":98},{"b":3,"p":"B","t":3.860,"v":93},{"b":3,"p":"B","t":3.864,"v":78},
{"b":3,"p":"B","t":4.198,"v":114},{"b":3,"p":"B","t":4.182,"v":111},{"b":3,"p":"B","t":4.210,"v":108},{"b":3,"p":"B","t":4.190,"v":105},{"b":3,"p":"B","t":4.204,"v":102},{"b":3,"p":"B","t":4.176,"v":99},{"b":3,"p":"B","t":4.194,"v":96},{"b":3,"p":"B","t":4.206,"v":89},
{"b":3,"p":"B","t":4.520,"v":115},{"b":3,"p":"B","t":4.544,"v":112},{"b":3,"p":"B","t":4.528,"v":109},{"b":3,"p":"B","t":4.548,"v":106},{"b":3,"p":"B","t":4.514,"v":103},{"b":3,"p":"B","t":4.536,"v":100},{"b":3,"p":"B","t":4.524,"v":97},{"b":3,"p":"B","t":4.532,"v":94},
{"b":3,"p":"B","t":4.893,"v":120},{"b":3,"p":"B","t":4.877,"v":115},{"b":3,"p":"B","t":4.865,"v":110},{"b":3,"p":"B","t":4.889,"v":106},{"b":3,"p":"B","t":4.881,"v":102},{"b":3,"p":"B","t":4.897,"v":98},{"b":3,"p":"B","t":4.869,"v":94},{"b":3,"p":"B","t":4.873,"v":89},
{"b":3,"p":"B","t":5.221,"v":118},{"b":3,"p":"B","t":5.205,"v":113},{"b":3,"p":"B","t":5.233,"v":108},{"b":3,"p":"B","t":5.213,"v":104},{"b":3,"p":"B","t":5.227,"v":100},{"b":3,"p":"B","t":5.199,"v":97},{"b":3,"p":"B","t":5.217,"v":94},{"b":3,"p":"B","t":5.229,"v":90},
{"b":3,"p":"B","t":5.548,"v":119},{"b":3,"p":"B","t":5.572,"v":112},{"b":3,"p":"B","t":5.556,"v":108},{"b":3,"p":"B","t":5.576,"v":105},{"b":3,"p":"B","t":5.542,"v":102},{"b":3,"p":"B","t":5.564,"v":99},{"b":3,"p":"B","t":5.552,"v":97},{"b":3,"p":"B","t":5.560,"v":95},
{"b":3,"p":"B","t":5.911,"v":116},{"b":3,"p":"B","t":5.895,"v":112},{"b":3,"p":"B","t":5.883,"v":108},{"b":3,"p":"B","t":5.907,"v":104},{"b":3,"p":"B","t":5.899,"v":100},{"b":3,"p":"B","t":5.915,"v":96},{"b":3,"p":"B","t":5.887,"v":92},{"b":3,"p":"B","t":5.891,"v":88},
{"b":3,"p":"B","t":6.244,"v":117},{"b":3,"p":"B","t":6.228,"v":113},{"b":3,"p":"B","t":6.256,"v":109},{"b":3,"p":"B","t":6.236,"v":105},{"b":3,"p":"B","t":6.250,"v":101},{"b":3,"p":"B","t":6.222,"v":97},{"b":3,"p":"B","t":6.240,"v":93},{"b":3,"p":"B","t":6.252,"v":89},
{"b":3,"p":"B","t":6.571,"v":114},{"b":3,"p":"B","t":6.595,"v":111},{"b":3,"p":"B","t":6.579,"v":108},{"b":3,"p":"B","t":6.599,"v":105},{"b":3,"p":"B","t":6.565,"v":102},{"b":3,"p":"B","t":6.587,"v":99},{"b":3,"p":"B","t":6.575,"v":95},{"b":3,"p":"B","t":6.583,"v":90},
{"b":3,"p":"B","t":6.924,"v":118},{"b":3,"p":"B","t":6.908,"v":114},{"b":3,"p":"B","t":6.896,"v":110},{"b":3,"p":"B","t":6.920,"v":106},{"b":3,"p":"B","t":6.912,"v":102},{"b":3,"p":"B","t":6.928,"v":99},{"b":3,"p":"B","t":6.900,"v":96},{"b":3,"p":"B","t":6.904,"v":83},
{"b":3,"p":"B","t":7.232,"v":125},{"b":3,"p":"B","t":7.216,"v":122},{"b":3,"p":"B","t":7.244,"v":119},{"b":3,"p":"B","t":7.224,"v":116},{"b":3,"p":"B","t":7.238,"v":113},{"b":3,"p":"B","t":7.210,"v":110},{"b":3,"p":"B","t":7.228,"v":107},{"b":3,"p":"B","t":7.240,"v":104},
{"b":3,"p":"B","t":7.549,"v":117},{"b":3,"p":"B","t":7.573,"v":113},{"b":3,"p":"B","t":7.557,"v":110},{"b":3,"p":"B","t":7.577,"v":107},{"b":3,"p":"B","t":7.543,"v":104},{"b":3,"p":"B","t":7.565,"v":101},{"b":3,"p":"B","t":7.553,"v":97},{"b":3,"p":"B","t":7.561,"v":93},
{"b":3,"p":"R","t":0.181,"v":148},{"b":3,"p":"R","t":0.195,"v":143},{"b":3,"p":"R","t":0.167,"v":139},{"b":3,"p":"R","t":0.185,"v":135},{"b":3,"p":"R","t":0.197,"v":131},{"b":3,"p":"R","t":0.189,"v":127},{"b":3,"p":"R","t":0.173,"v":123},{"b":3,"p":"R","t":0.201,"v":109},
{"b":3,"p":"R","t":0.539,"v":152},{"b":3,"p":"R","t":0.505,"v":148},{"b":3,"p":"R","t":0.527,"v":144},{"b":3,"p":"R","t":0.515,"v":140},{"b":3,"p":"R","t":0.523,"v":137},{"b":3,"p":"R","t":0.511,"v":134},{"b":3,"p":"R","t":0.535,"v":131},{"b":3,"p":"R","t":0.519,"v":120},
{"b":3,"p":"R","t":0.860,"v":141},{"b":3,"p":"R","t":0.852,"v":138},{"b":3,"p":"R","t":0.868,"v":135},{"b":3,"p":"R","t":0.840,"v":132},{"b":3,"p":"R","t":0.844,"v":129},{"b":3,"p":"R","t":0.864,"v":127},{"b":3,"p":"R","t":0.848,"v":125},{"b":3,"p":"R","t":0.836,"v":123},
{"b":3,"p":"R","t":1.189,"v":153},{"b":3,"p":"R","t":1.203,"v":149},{"b":3,"p":"R","t":1.175,"v":145},{"b":3,"p":"R","t":1.193,"v":141},{"b":3,"p":"R","t":1.205,"v":137},{"b":3,"p":"R","t":1.197,"v":133},{"b":3,"p":"R","t":1.181,"v":129},{"b":3,"p":"R","t":1.209,"v":123},
{"b":3,"p":"R","t":1.552,"v":147},{"b":3,"p":"R","t":1.518,"v":144},{"b":3,"p":"R","t":1.540,"v":141},{"b":3,"p":"R","t":1.528,"v":138},{"b":3,"p":"R","t":1.536,"v":135},{"b":3,"p":"R","t":1.524,"v":132},{"b":3,"p":"R","t":1.548,"v":129},{"b":3,"p":"R","t":1.532,"v":126},
{"b":3,"p":"R","t":1.883,"v":158},{"b":3,"p":"R","t":1.875,"v":153},{"b":3,"p":"R","t":1.891,"v":148},{"b":3,"p":"R","t":1.863,"v":144},{"b":3,"p":"R","t":1.867,"v":140},{"b":3,"p":"R","t":1.887,"v":137},{"b":3,"p":"R","t":1.871,"v":134},{"b":3,"p":"R","t":1.859,"v":130},
{"b":3,"p":"R","t":2.207,"v":155},{"b":3,"p":"R","t":2.221,"v":150},{"b":3,"p":"R","t":2.193,"v":146},{"b":3,"p":"R","t":2.211,"v":142},{"b":3,"p":"R","t":2.223,"v":138},{"b":3,"p":"R","t":2.215,"v":134},{"b":3,"p":"R","t":2.199,"v":130},{"b":3,"p":"R","t":2.227,"v":127},
{"b":3,"p":"R","t":2.580,"v":151},{"b":3,"p":"R","t":2.546,"v":147},{"b":3,"p":"R","t":2.568,"v":143},{"b":3,"p":"R","t":2.556,"v":139},{"b":3,"p":"R","t":2.564,"v":135},{"b":3,"p":"R","t":2.552,"v":131},{"b":3,"p":"R","t":2.576,"v":127},{"b":3,"p":"R","t":2.560,"v":122},
{"b":3,"p":"R","t":2.896,"v":155},{"b":3,"p":"R","t":2.888,"v":145},{"b":3,"p":"R","t":2.904,"v":141},{"b":3,"p":"R","t":2.876,"v":137},{"b":3,"p":"R","t":2.880,"v":133},{"b":3,"p":"R","t":2.900,"v":129},{"b":3,"p":"R","t":2.884,"v":125},{"b":3,"p":"R","t":2.872,"v":120},
{"b":3,"p":"R","t":3.216,"v":155},{"b":3,"p":"R","t":3.230,"v":145},{"b":3,"p":"R","t":3.202,"v":141},{"b":3,"p":"R","t":3.220,"v":137},{"b":3,"p":"R","t":3.232,"v":133},{"b":3,"p":"R","t":3.224,"v":130},{"b":3,"p":"R","t":3.208,"v":127},{"b":3,"p":"R","t":3.236,"v":122},
{"b":3,"p":"R","t":3.564,"v":161},{"b":3,"p":"R","t":3.530,"v":155},{"b":3,"p":"R","t":3.552,"v":150},{"b":3,"p":"R","t":3.540,"v":145},{"b":3,"p":"R","t":3.548,"v":140},{"b":3,"p":"R","t":3.536,"v":135},{"b":3,"p":"R","t":3.560,"v":130},{"b":3,"p":"R","t":3.544,"v":121},
{"b":3,"p":"R","t":3.880,"v":158},{"b":3,"p":"R","t":3.872,"v":152},{"b":3,"p":"R","t":3.888,"v":147},{"b":3,"p":"R","t":3.860,"v":142},{"b":3,"p":"R","t":3.864,"v":138},{"b":3,"p":"R","t":3.884,"v":134},{"b":3,"p":"R","t":3.868,"v":128},{"b":3,"p":"R","t":3.856,"v":116},
{"b":3,"p":"R","t":4.190,"v":146},{"b":3,"p":"R","t":4.204,"v":143},{"b":3,"p":"R","t":4.176,"v":140},{"b":3,"p":"R","t":4.194,"v":137},{"b":3,"p":"R","t":4.206,"v":134},{"b":3,"p":"R","t":4.198,"v":131},{"b":3,"p":"R","t":4.182,"v":128},{"b":3,"p":"R","t":4.210,"v":121},
{"b":3,"p":"R","t":4.548,"v":152},{"b":3,"p":"R","t":4.514,"v":147},{"b":3,"p":"R","t":4.536,"v":142},{"b":3,"p":"R","t":4.524,"v":138},{"b":3,"p":"R","t":4.532,"v":134},{"b":3,"p":"R","t":4.520,"v":130},{"b":3,"p":"R","t":4.544,"v":125},{"b":3,"p":"R","t":4.528,"v":115},
{"b":3,"p":"R","t":4.889,"v":160},{"b":3,"p":"R","t":4.881,"v":152},{"b":3,"p":"R","t":4.897,"v":148},{"b":3,"p":"R","t":4.869,"v":144},{"b":3,"p":"R","t":4.873,"v":140},{"b":3,"p":"R","t":4.893,"v":136},{"b":3,"p":"R","t":4.877,"v":132},{"b":3,"p":"R","t":4.865,"v":128},
{"b":3,"p":"R","t":5.213,"v":148},{"b":3,"p":"R","t":5.227,"v":144},{"b":3,"p":"R","t":5.199,"v":141},{"b":3,"p":"R","t":5.217,"v":138},{"b":3,"p":"R","t":5.229,"v":135},{"b":3,"p":"R","t":5.221,"v":131},{"b":3,"p":"R","t":5.205,"v":127},{"b":3,"p":"R","t":5.233,"v":122},
{"b":3,"p":"R","t":5.576,"v":152},{"b":3,"p":"R","t":5.542,"v":145},{"b":3,"p":"R","t":5.564,"v":141},{"b":3,"p":"R","t":5.552,"v":138},{"b":3,"p":"R","t":5.560,"v":135},{"b":3,"p":"R","t":5.548,"v":131},{"b":3,"p":"R","t":5.572,"v":127},{"b":3,"p":"R","t":5.556,"v":115},
{"b":3,"p":"R","t":5.907,"v":155},{"b":3,"p":"R","t":5.899,"v":150},{"b":3,"p":"R","t":5.915,"v":145},{"b":3,"p":"R","t":5.887,"v":141},{"b":3,"p":"R","t":5.891,"v":137},{"b":3,"p":"R","t":5.911,"v":133},{"b":3,"p":"R","t":5.895,"v":128},{"b":3,"p":"R","t":5.883,"v":123},
{"b":3,"p":"R","t":6.236,"v":150},{"b":3,"p":"R","t":6.250,"v":146},{"b":3,"p":"R","t":6.222,"v":142},{"b":3,"p":"R","t":6.240,"v":138},{"b":3,"p":"R","t":6.252,"v":134},{"b":3,"p":"R","t":6.244,"v":130},{"b":3,"p":"R","t":6.228,"v":126},{"b":3,"p":"R","t":6.256,"v":121},
{"b":3,"p":"R","t":6.599,"v":157},{"b":3,"p":"R","t":6.565,"v":150},{"b":3,"p":"R","t":6.587,"v":146},{"b":3,"p":"R","t":6.575,"v":142},{"b":3,"p":"R","t":6.583,"v":138},{"b":3,"p":"R","t":6.571,"v":133},{"b":3,"p":"R","t":6.595,"v":128},{"b":3,"p":"R","t":6.579,"v":120},
{"b":3,"p":"R","t":6.920,"v":153},{"b":3,"p":"R","t":6.912,"v":149},{"b":3,"p":"R","t":6.928,"v":145},{"b":3,"p":"R","t":6.900,"v":141},{"b":3,"p":"R","t":6.904,"v":137},{"b":3,"p":"R","t":6.924,"v":133},{"b":3,"p":"R","t":6.908,"v":129},{"b":3,"p":"R","t":6.896,"v":124},
{"b":3,"p":"R","t":7.224,"v":153},{"b":3,"p":"R","t":7.238,"v":149},{"b":3,"p":"R","t":7.210,"v":145},{"b":3,"p":"R","t":7.228,"v":142},{"b":3,"p":"R","t":7.240,"v":139},{"b":3,"p":"R","t":7.232,"v":135},{"b":3,"p":"R","t":7.216,"v":131},{"b":3,"p":"R","t":7.244,"v":127},
{"b":3,"p":"R","t":7.577,"v":147},{"b":3,"p":"R","t":7.543,"v":144},{"b":3,"p":"R","t":7.565,"v":141},{"b":3,"p":"R","t":7.553,"v":138},{"b":3,"p":"R","t":7.561,"v":135},{"b":3,"p":"R","t":7.549,"v":132},{"b":3,"p":"R","t":7.573,"v":129},{"b":3,"p":"R","t":7.557,"v":126},
{"b":1,"p":"B","t":0.177,"v":102},{"b":1,"p":"B","t":0.193,"v":94},{"b":1,"p":"B","t":0.188,"v":92},{"b":1,"p":"B","t":0.180,"v":87},
{"b":1,"p":"B","t":0.513,"v":107},{"b":1,"p":"B","t":0.529,"v":99},{"b":1,"p":"B","t":0.524,"v":97},{"b":1,"p":"B","t":0.516,"v":94},
{"b":1,"p":"B","t":0.844,"v":105},{"b":1,"p":"B","t":0.860,"v":97},{"b":1,"p":"B","t":0.855,"v":94},{"b":1,"p":"B","t":0.847,"v":87},
{"b":1,"p":"B","t":1.185,"v":105},{"b":1,"p":"B","t":1.201,"v":99},{"b":1,"p":"B","t":1.196,"v":96},{"b":1,"p":"B","t":1.188,"v":91},
{"b":1,"p":"B","t":1.526,"v":108},{"b":1,"p":"B","t":1.542,"v":98},{"b":1,"p":"B","t":1.537,"v":94},{"b":1,"p":"B","t":1.529,"v":87},
{"b":1,"p":"B","t":1.867,"v":105},{"b":1,"p":"B","t":1.883,"v":99},{"b":1,"p":"B","t":1.878,"v":97},{"b":1,"p":"B","t":1.870,"v":93},
{"b":1,"p":"B","t":2.203,"v":108},{"b":1,"p":"B","t":2.219,"v":100},{"b":1,"p":"B","t":2.214,"v":98},{"b":1,"p":"B","t":2.206,"v":93},
{"b":1,"p":"B","t":2.554,"v":106},{"b":1,"p":"B","t":2.570,"v":97},{"b":1,"p":"B","t":2.565,"v":94},{"b":1,"p":"B","t":2.557,"v":89},
{"b":1,"p":"B","t":2.880,"v":110},{"b":1,"p":"B","t":2.896,"v":100},{"b":1,"p":"B","t":2.891,"v":97},{"b":1,"p":"B","t":2.883,"v":92},
{"b":1,"p":"B","t":3.212,"v":108},{"b":1,"p":"B","t":3.228,"v":102},{"b":1,"p":"B","t":3.223,"v":100},{"b":1,"p":"B","t":3.215,"v":95},
{"b":1,"p":"B","t":3.538,"v":110},{"b":1,"p":"B","t":3.554,"v":104},{"b":1,"p":"B","t":3.549,"v":103},{"b":1,"p":"B","t":3.541,"v":99},
{"b":1,"p":"B","t":3.864,"v":103},{"b":1,"p":"B","t":3.880,"v":95},{"b":1,"p":"B","t":3.875,"v":93},{"b":1,"p":"B","t":3.867,"v":88},
{"b":1,"p":"B","t":4.186,"v":99},{"b":1,"p":"B","t":4.202,"v":95},{"b":1,"p":"B","t":4.197,"v":94},{"b":1,"p":"B","t":4.189,"v":88},
{"b":1,"p":"B","t":4.522,"v":104},{"b":1,"p":"B","t":4.538,"v":98},{"b":1,"p":"B","t":4.533,"v":96},{"b":1,"p":"B","t":4.525,"v":91},
{"b":1,"p":"B","t":4.873,"v":108},{"b":1,"p":"B","t":4.889,"v":101},{"b":1,"p":"B","t":4.884,"v":99},{"b":1,"p":"B","t":4.876,"v":94},
{"b":1,"p":"B","t":5.209,"v":101},{"b":1,"p":"B","t":5.225,"v":93},{"b":1,"p":"B","t":5.220,"v":91},{"b":1,"p":"B","t":5.212,"v":85},
{"b":1,"p":"B","t":5.550,"v":105},{"b":1,"p":"B","t":5.566,"v":99},{"b":1,"p":"B","t":5.561,"v":98},{"b":1,"p":"B","t":5.553,"v":93},
{"b":1,"p":"B","t":5.891,"v":106},{"b":1,"p":"B","t":5.907,"v":99},{"b":1,"p":"B","t":5.902,"v":96},{"b":1,"p":"B","t":5.894,"v":90},
{"b":1,"p":"B","t":6.232,"v":104},{"b":1,"p":"B","t":6.248,"v":98},{"b":1,"p":"B","t":6.243,"v":95},{"b":1,"p":"B","t":6.235,"v":90},
{"b":1,"p":"B","t":6.573,"v":108},{"b":1,"p":"B","t":6.589,"v":102},{"b":1,"p":"B","t":6.584,"v":100},{"b":1,"p":"B","t":6.576,"v":95},
{"b":1,"p":"B","t":6.904,"v":106},{"b":1,"p":"B","t":6.920,"v":100},{"b":1,"p":"B","t":6.915,"v":98},{"b":1,"p":"B","t":6.907,"v":94},
{"b":1,"p":"B","t":7.220,"v":109},{"b":1,"p":"B","t":7.236,"v":105},{"b":1,"p":"B","t":7.231,"v":104},{"b":1,"p":"B","t":7.223,"v":101},
{"b":1,"p":"B","t":7.551,"v":111},{"b":1,"p":"B","t":7.567,"v":105},{"b":1,"p":"B","t":7.562,"v":103},{"b":1,"p":"B","t":7.554,"v":100},
{"b":1,"p":"R","t":0.177,"v":40},{"b":1,"p":"R","t":0.193,"v":31},{"b":1,"p":"R","t":0.188,"v":28},{"b":1,"p":"R","t":0.180,"v":23},
{"b":1,"p":"R","t":0.513,"v":36},{"b":1,"p":"R","t":0.529,"v":26},{"b":1,"p":"R","t":0.524,"v":22},{"b":1,"p":"R","t":0.516,"v":16},
{"b":1,"p":"R","t":0.844,"v":36},{"b":1,"p":"R","t":0.860,"v":30},{"b":1,"p":"R","t":0.855,"v":28},{"b":1,"p":"R","t":0.847,"v":23},
{"b":1,"p":"R","t":1.185,"v":39},{"b":1,"p":"R","t":1.201,"v":35},{"b":1,"p":"R","t":1.196,"v":34},{"b":1,"p":"R","t":1.188,"v":31},
{"b":1,"p":"R","t":1.526,"v":44},{"b":1,"p":"R","t":1.542,"v":34},{"b":1,"p":"R","t":1.537,"v":31},{"b":1,"p":"R","t":1.529,"v":26},
{"b":1,"p":"R","t":1.867,"v":37},{"b":1,"p":"R","t":1.883,"v":31},{"b":1,"p":"R","t":1.878,"v":29},{"b":1,"p":"R","t":1.870,"v":24},
{"b":1,"p":"R","t":2.203,"v":36},{"b":1,"p":"R","t":2.219,"v":30},{"b":1,"p":"R","t":2.214,"v":28},{"b":1,"p":"R","t":2.206,"v":23},
{"b":1,"p":"R","t":2.554,"v":40},{"b":1,"p":"R","t":2.570,"v":34},{"b":1,"p":"R","t":2.565,"v":32},{"b":1,"p":"R","t":2.557,"v":27},
{"b":1,"p":"R","t":2.880,"v":39},{"b":1,"p":"R","t":2.896,"v":33},{"b":1,"p":"R","t":2.891,"v":31},{"b":1,"p":"R","t":2.883,"v":28},
{"b":1,"p":"R","t":3.212,"v":36},{"b":1,"p":"R","t":3.228,"v":30},{"b":1,"p":"R","t":3.223,"v":27},{"b":1,"p":"R","t":3.215,"v":22},
{"b":1,"p":"R","t":3.538,"v":41},{"b":1,"p":"R","t":3.554,"v":33},{"b":1,"p":"R","t":3.549,"v":31},{"b":1,"p":"R","t":3.541,"v":26},
{"b":1,"p":"R","t":3.864,"v":45},{"b":1,"p":"R","t":3.880,"v":35},{"b":1,"p":"R","t":3.875,"v":32},{"b":1,"p":"R","t":3.867,"v":27},
{"b":1,"p":"R","t":4.186,"v":40},{"b":1,"p":"R","t":4.202,"v":34},{"b":1,"p":"R","t":4.197,"v":32},{"b":1,"p":"R","t":4.189,"v":27},
{"b":1,"p":"R","t":4.522,"v":44},{"b":1,"p":"R","t":4.538,"v":35},{"b":1,"p":"R","t":4.533,"v":32},{"b":1,"p":"R","t":4.525,"v":27},
{"b":1,"p":"R","t":4.873,"v":43},{"b":1,"p":"R","t":4.889,"v":36},{"b":1,"p":"R","t":4.884,"v":34},{"b":1,"p":"R","t":4.876,"v":29},
{"b":1,"p":"R","t":5.209,"v":45},{"b":1,"p":"R","t":5.225,"v":36},{"b":1,"p":"R","t":5.220,"v":33},{"b":1,"p":"R","t":5.212,"v":27},
{"b":1,"p":"R","t":5.550,"v":41},{"b":1,"p":"R","t":5.566,"v":35},{"b":1,"p":"R","t":5.561,"v":33},{"b":1,"p":"R","t":5.553,"v":30},
{"b":1,"p":"R","t":5.891,"v":41},{"b":1,"p":"R","t":5.907,"v":34},{"b":1,"p":"R","t":5.902,"v":31},{"b":1,"p":"R","t":5.894,"v":26},
{"b":1,"p":"R","t":6.232,"v":42},{"b":1,"p":"R","t":6.248,"v":36},{"b":1,"p":"R","t":6.243,"v":34},{"b":1,"p":"R","t":6.235,"v":29},
{"b":1,"p":"R","t":6.573,"v":37},{"b":1,"p":"R","t":6.589,"v":29},{"b":1,"p":"R","t":6.584,"v":26},{"b":1,"p":"R","t":6.576,"v":20},
{"b":1,"p":"R","t":6.904,"v":43},{"b":1,"p":"R","t":6.920,"v":35},{"b":1,"p":"R","t":6.915,"v":33},{"b":1,"p":"R","t":6.907,"v":28},
{"b":1,"p":"R","t":7.220,"v":40},{"b":1,"p":"R","t":7.236,"v":31},{"b":1,"p":"R","t":7.231,"v":28},{"b":1,"p":"R","t":7.223,"v":23},
{"b":1,"p":"R","t":7.551,"v":36},{"b":1,"p":"R","t":7.567,"v":29},{"b":1,"p":"R","t":7.562,"v":27},{"b":1,"p":"R","t":7.554,"v":22},
{"b":2,"p":"B","t":0.177,"v":152},{"b":2,"p":"B","t":0.193,"v":144},{"b":2,"p":"B","t":0.188,"v":141},{"b":2,"p":"B","t":0.180,"v":136},
{"b":2,"p":"B","t":0.513,"v":149},{"b":2,"p":"B","t":0.529,"v":143},{"b":2,"p":"B","t":0.524,"v":141},{"b":2,"p":"B","t":0.516,"v":137},
{"b":2,"p":"B","t":0.844,"v":155},{"b":2,"p":"B","t":0.860,"v":147},{"b":2,"p":"B","t":0.855,"v":144},{"b":2,"p":"B","t":0.847,"v":139},
{"b":2,"p":"B","t":1.185,"v":150},{"b":2,"p":"B","t":1.201,"v":142},{"b":2,"p":"B","t":1.196,"v":139},{"b":2,"p":"B","t":1.188,"v":134},
{"b":2,"p":"B","t":1.526,"v":156},{"b":2,"p":"B","t":1.542,"v":148},{"b":2,"p":"B","t":1.537,"v":145},{"b":2,"p":"B","t":1.529,"v":140},
{"b":2,"p":"B","t":1.867,"v":153},{"b":2,"p":"B","t":1.883,"v":145},{"b":2,"p":"B","t":1.878,"v":142},{"b":2,"p":"B","t":1.870,"v":137},
{"b":2,"p":"B","t":2.203,"v":150},{"b":2,"p":"B","t":2.219,"v":142},{"b":2,"p":"B","t":2.214,"v":139},{"b":2,"p":"B","t":2.206,"v":134},
{"b":2,"p":"B","t":2.554,"v":159},{"b":2,"p":"B","t":2.570,"v":149},{"b":2,"p":"B","t":2.565,"v":145},{"b":2,"p":"B","t":2.557,"v":139},
{"b":2,"p":"B","t":2.880,"v":155},{"b":2,"p":"B","t":2.896,"v":147},{"b":2,"p":"B","t":2.891,"v":144},{"b":2,"p":"B","t":2.883,"v":139},
{"b":2,"p":"B","t":3.212,"v":152},{"b":2,"p":"B","t":3.228,"v":146},{"b":2,"p":"B","t":3.223,"v":143},{"b":2,"p":"B","t":3.215,"v":138},
{"b":2,"p":"B","t":3.538,"v":149},{"b":2,"p":"B","t":3.554,"v":143},{"b":2,"p":"B","t":3.549,"v":141},{"b":2,"p":"B","t":3.541,"v":137},
{"b":2,"p":"B","t":3.864,"v":155},{"b":2,"p":"B","t":3.880,"v":147},{"b":2,"p":"B","t":3.875,"v":144},{"b":2,"p":"B","t":3.867,"v":139},
{"b":2,"p":"B","t":4.186,"v":160},{"b":2,"p":"B","t":4.202,"v":150},{"b":2,"p":"B","t":4.197,"v":147},{"b":2,"p":"B","t":4.189,"v":142},
{"b":2,"p":"B","t":4.522,"v":149},{"b":2,"p":"B","t":4.538,"v":142},{"b":2,"p":"B","t":4.533,"v":140},{"b":2,"p":"B","t":4.525,"v":136},
{"b":2,"p":"B","t":4.873,"v":156},{"b":2,"p":"B","t":4.889,"v":148},{"b":2,"p":"B","t":4.884,"v":145},{"b":2,"p":"B","t":4.876,"v":140},
{"b":2,"p":"B","t":5.209,"v":154},{"b":2,"p":"B","t":5.225,"v":146},{"b":2,"p":"B","t":5.220,"v":143},{"b":2,"p":"B","t":5.212,"v":138},
{"b":2,"p":"B","t":5.550,"v":159},{"b":2,"p":"B","t":5.566,"v":149},{"b":2,"p":"B","t":5.561,"v":146},{"b":2,"p":"B","t":5.553,"v":141},
{"b":2,"p":"B","t":5.891,"v":161},{"b":2,"p":"B","t":5.907,"v":151},{"b":2,"p":"B","t":5.902,"v":147},{"b":2,"p":"B","t":5.894,"v":142},
{"b":2,"p":"B","t":6.232,"v":157},{"b":2,"p":"B","t":6.248,"v":148},{"b":2,"p":"B","t":6.243,"v":145},{"b":2,"p":"B","t":6.235,"v":140},
{"b":2,"p":"B","t":6.573,"v":156},{"b":2,"p":"B","t":6.589,"v":148},{"b":2,"p":"B","t":6.584,"v":145},{"b":2,"p":"B","t":6.576,"v":140},
{"b":2,"p":"B","t":6.904,"v":156},{"b":2,"p":"B","t":6.920,"v":148},{"b":2,"p":"B","t":6.915,"v":145},{"b":2,"p":"B","t":6.907,"v":140},
{"b":2,"p":"B","t":7.220,"v":151},{"b":2,"p":"B","t":7.236,"v":144},{"b":2,"p":"B","t":7.231,"v":141},{"b":2,"p":"B","t":7.223,"v":136},
{"b":2,"p":"B","t":7.551,"v":156},{"b":2,"p":"B","t":7.567,"v":148},{"b":2,"p":"B","t":7.562,"v":145},{"b":2,"p":"B","t":7.554,"v":140},
{"b":2,"p":"R","t":0.177,"v":142},{"b":2,"p":"R","t":0.193,"v":134},{"b":2,"p":"R","t":0.188,"v":131},{"b":2,"p":"R","t":0.180,"v":126},
{"b":2,"p":"R","t":0.513,"v":134},{"b":2,"p":"R","t":0.529,"v":128},{"b":2,"p":"R","t":0.524,"v":127},{"b":2,"p":"R","t":0.516,"v":124},
{"b":2,"p":"R","t":0.844,"v":141},{"b":2,"p":"R","t":0.860,"v":133},{"b":2,"p":"R","t":0.855,"v":131},{"b":2,"p":"R","t":0.847,"v":127},
{"b":2,"p":"R","t":1.185,"v":139},{"b":2,"p":"R","t":1.201,"v":131},{"b":2,"p":"R","t":1.196,"v":128},{"b":2,"p":"R","t":1.188,"v":123},
{"b":2,"p":"R","t":1.526,"v":140},{"b":2,"p":"R","t":1.542,"v":132},{"b":2,"p":"R","t":1.537,"v":129},{"b":2,"p":"R","t":1.529,"v":124},
{"b":2,"p":"R","t":1.867,"v":142},{"b":2,"p":"R","t":1.883,"v":136},{"b":2,"p":"R","t":1.878,"v":134},{"b":2,"p":"R","t":1.870,"v":130},
{"b":2,"p":"R","t":2.203,"v":142},{"b":2,"p":"R","t":2.219,"v":134},{"b":2,"p":"R","t":2.214,"v":131},{"b":2,"p":"R","t":2.206,"v":125},
{"b":2,"p":"R","t":2.554,"v":141},{"b":2,"p":"R","t":2.570,"v":133},{"b":2,"p":"R","t":2.565,"v":130},{"b":2,"p":"R","t":2.557,"v":125},
{"b":2,"p":"R","t":2.880,"v":145},{"b":2,"p":"R","t":2.896,"v":136},{"b":2,"p":"R","t":2.891,"v":133},{"b":2,"p":"R","t":2.883,"v":128},
{"b":2,"p":"R","t":3.212,"v":142},{"b":2,"p":"R","t":3.228,"v":134},{"b":2,"p":"R","t":3.223,"v":131},{"b":2,"p":"R","t":3.215,"v":126},
{"b":2,"p":"R","t":3.538,"v":148},{"b":2,"p":"R","t":3.554,"v":138},{"b":2,"p":"R","t":3.549,"v":135},{"b":2,"p":"R","t":3.541,"v":129},
{"b":2,"p":"R","t":3.864,"v":146},{"b":2,"p":"R","t":3.880,"v":138},{"b":2,"p":"R","t":3.875,"v":136},{"b":2,"p":"R","t":3.867,"v":132},
{"b":2,"p":"R","t":4.186,"v":143},{"b":2,"p":"R","t":4.202,"v":137},{"b":2,"p":"R","t":4.197,"v":134},{"b":2,"p":"R","t":4.189,"v":129},
{"b":2,"p":"R","t":4.522,"v":144},{"b":2,"p":"R","t":4.538,"v":134},{"b":2,"p":"R","t":4.533,"v":130},{"b":2,"p":"R","t":4.525,"v":124},
{"b":2,"p":"R","t":4.873,"v":138},{"b":2,"p":"R","t":4.889,"v":130},{"b":2,"p":"R","t":4.884,"v":128},{"b":2,"p":"R","t":4.876,"v":124},
{"b":2,"p":"R","t":5.209,"v":140},{"b":2,"p":"R","t":5.225,"v":134},{"b":2,"p":"R","t":5.220,"v":132},{"b":2,"p":"R","t":5.212,"v":128},
{"b":2,"p":"R","t":5.550,"v":143},{"b":2,"p":"R","t":5.566,"v":134},{"b":2,"p":"R","t":5.561,"v":131},{"b":2,"p":"R","t":5.553,"v":126},
{"b":2,"p":"R","t":5.891,"v":144},{"b":2,"p":"R","t":5.907,"v":138},{"b":2,"p":"R","t":5.902,"v":136},{"b":2,"p":"R","t":5.894,"v":132},
{"b":2,"p":"R","t":6.232,"v":147},{"b":2,"p":"R","t":6.248,"v":141},{"b":2,"p":"R","t":6.243,"v":139},{"b":2,"p":"R","t":6.235,"v":135},
{"b":2,"p":"R","t":6.573,"v":140},{"b":2,"p":"R","t":6.589,"v":132},{"b":2,"p":"R","t":6.584,"v":130},{"b":2,"p":"R","t":6.576,"v":125},
{"b":2,"p":"R","t":6.904,"v":142},{"b":2,"p":"R","t":6.920,"v":136},{"b":2,"p":"R","t":6.915,"v":134},{"b":2,"p":"R","t":6.907,"v":130},
{"b":2,"p":"R","t":7.220,"v":146},{"b":2,"p":"R","t":7.236,"v":138},{"b":2,"p":"R","t":7.231,"v":135},{"b":2,"p":"R","t":7.223,"v":130},
{"b":2,"p":"R","t":7.551,"v":143},{"b":2,"p":"R","t":7.567,"v":137},{"b":2,"p":"R","t":7.562,"v":134},{"b":2,"p":"R","t":7.554,"v":129},
{"b":3,"p":"B","t":0.177,"v":113},{"b":3,"p":"B","t":0.193,"v":104},{"b":3,"p":"B","t":0.188,"v":101},{"b":3,"p":"B","t":0.180,"v":96},
{"b":3,"p":"B","t":0.513,"v":111},{"b":3,"p":"B","t":0.529,"v":105},{"b":3,"p":"B","t":0.524,"v":103},{"b":3,"p":"B","t":0.516,"v":99},
{"b":3,"p":"B","t":0.844,"v":110},{"b":3,"p":"B","t":0.860,"v":102},{"b":3,"p":"B","t":0.855,"v":99},{"b":3,"p":"B","t":0.847,"v":93},
{"b":3,"p":"B","t":1.185,"v":110},{"b":3,"p":"B","t":1.201,"v":102},{"b":3,"p":"B","t":1.196,"v":99},{"b":3,"p":"B","t":1.188,"v":94},
{"b":3,"p":"B","t":1.526,"v":112},{"b":3,"p":"B","t":1.542,"v":104},{"b":3,"p":"B","t":1.537,"v":101},{"b":3,"p":"B","t":1.529,"v":96},
{"b":3,"p":"B","t":1.867,"v":112},{"b":3,"p":"B","t":1.883,"v":106},{"b":3,"p":"B","t":1.878,"v":103},{"b":3,"p":"B","t":1.870,"v":98},
{"b":3,"p":"B","t":2.203,"v":113},{"b":3,"p":"B","t":2.219,"v":107},{"b":3,"p":"B","t":2.214,"v":105},{"b":3,"p":"B","t":2.206,"v":101},
{"b":3,"p":"B","t":2.554,"v":111},{"b":3,"p":"B","t":2.570,"v":105},{"b":3,"p":"B","t":2.565,"v":103},{"b":3,"p":"B","t":2.557,"v":99},
{"b":3,"p":"B","t":2.880,"v":108},{"b":3,"p":"B","t":2.896,"v":101},{"b":3,"p":"B","t":2.891,"v":99},{"b":3,"p":"B","t":2.883,"v":94},
{"b":3,"p":"B","t":3.212,"v":112},{"b":3,"p":"B","t":3.228,"v":105},{"b":3,"p":"B","t":3.223,"v":103},{"b":3,"p":"B","t":3.215,"v":99},
{"b":3,"p":"B","t":3.538,"v":110},{"b":3,"p":"B","t":3.554,"v":104},{"b":3,"p":"B","t":3.549,"v":102},{"b":3,"p":"B","t":3.541,"v":98},
{"b":3,"p":"B","t":3.864,"v":112},{"b":3,"p":"B","t":3.880,"v":104},{"b":3,"p":"B","t":3.875,"v":101},{"b":3,"p":"B","t":3.867,"v":96},
{"b":3,"p":"B","t":4.186,"v":110},{"b":3,"p":"B","t":4.202,"v":104},{"b":3,"p":"B","t":4.197,"v":101},{"b":3,"p":"B","t":4.189,"v":98},
{"b":3,"p":"B","t":4.522,"v":111},{"b":3,"p":"B","t":4.538,"v":105},{"b":3,"p":"B","t":4.533,"v":103},{"b":3,"p":"B","t":4.525,"v":99},
{"b":3,"p":"B","t":4.873,"v":113},{"b":3,"p":"B","t":4.889,"v":104},{"b":3,"p":"B","t":4.884,"v":101},{"b":3,"p":"B","t":4.876,"v":96},
{"b":3,"p":"B","t":5.209,"v":111},{"b":3,"p":"B","t":5.225,"v":102},{"b":3,"p":"B","t":5.220,"v":100},{"b":3,"p":"B","t":5.212,"v":96},
{"b":3,"p":"B","t":5.550,"v":110},{"b":3,"p":"B","t":5.566,"v":104},{"b":3,"p":"B","t":5.561,"v":102},{"b":3,"p":"B","t":5.553,"v":98},
{"b":3,"p":"B","t":5.891,"v":110},{"b":3,"p":"B","t":5.907,"v":102},{"b":3,"p":"B","t":5.902,"v":99},{"b":3,"p":"B","t":5.894,"v":94},
{"b":3,"p":"B","t":6.232,"v":111},{"b":3,"p":"B","t":6.248,"v":103},{"b":3,"p":"B","t":6.243,"v":100},{"b":3,"p":"B","t":6.235,"v":95},
{"b":3,"p":"B","t":6.573,"v":110},{"b":3,"p":"B","t":6.589,"v":104},{"b":3,"p":"B","t":6.584,"v":102},{"b":3,"p":"B","t":6.576,"v":97},
{"b":3,"p":"B","t":6.904,"v":112},{"b":3,"p":"B","t":6.920,"v":104},{"b":3,"p":"B","t":6.915,"v":102},{"b":3,"p":"B","t":6.907,"v":98},
{"b":3,"p":"B","t":7.220,"v":121},{"b":3,"p":"B","t":7.236,"v":115},{"b":3,"p":"B","t":7.231,"v":113},{"b":3,"p":"B","t":7.223,"v":109},
{"b":3,"p":"B","t":7.551,"v":112},{"b":3,"p":"B","t":7.567,"v":106},{"b":3,"p":"B","t":7.562,"v":104},{"b":3,"p":"B","t":7.554,"v":99},
{"b":3,"p":"R","t":0.177,"v":141},{"b":3,"p":"R","t":0.193,"v":133},{"b":3,"p":"R","t":0.188,"v":130},{"b":3,"p":"R","t":0.180,"v":125},
{"b":3,"p":"R","t":0.513,"v":146},{"b":3,"p":"R","t":0.529,"v":139},{"b":3,"p":"R","t":0.524,"v":137},{"b":3,"p":"R","t":0.516,"v":133},
{"b":3,"p":"R","t":0.844,"v":137},{"b":3,"p":"R","t":0.860,"v":131},{"b":3,"p":"R","t":0.855,"v":129},{"b":3,"p":"R","t":0.847,"v":126},
{"b":3,"p":"R","t":1.185,"v":147},{"b":3,"p":"R","t":1.201,"v":139},{"b":3,"p":"R","t":1.196,"v":136},{"b":3,"p":"R","t":1.188,"v":131},
{"b":3,"p":"R","t":1.526,"v":143},{"b":3,"p":"R","t":1.542,"v":137},{"b":3,"p":"R","t":1.537,"v":135},{"b":3,"p":"R","t":1.529,"v":131},
{"b":3,"p":"R","t":1.867,"v":151},{"b":3,"p":"R","t":1.883,"v":142},{"b":3,"p":"R","t":1.878,"v":140},{"b":3,"p":"R","t":1.870,"v":136},
{"b":3,"p":"R","t":2.203,"v":148},{"b":3,"p":"R","t":2.219,"v":140},{"b":3,"p":"R","t":2.214,"v":137},{"b":3,"p":"R","t":2.206,"v":132},
{"b":3,"p":"R","t":2.554,"v":145},{"b":3,"p":"R","t":2.570,"v":137},{"b":3,"p":"R","t":2.565,"v":134},{"b":3,"p":"R","t":2.557,"v":129},
{"b":3,"p":"R","t":2.880,"v":143},{"b":3,"p":"R","t":2.896,"v":135},{"b":3,"p":"R","t":2.891,"v":132},{"b":3,"p":"R","t":2.883,"v":127},
{"b":3,"p":"R","t":3.212,"v":143},{"b":3,"p":"R","t":3.228,"v":135},{"b":3,"p":"R","t":3.223,"v":133},{"b":3,"p":"R","t":3.215,"v":129},
{"b":3,"p":"R","t":3.538,"v":153},{"b":3,"p":"R","t":3.554,"v":143},{"b":3,"p":"R","t":3.549,"v":139},{"b":3,"p":"R","t":3.541,"v":133},
{"b":3,"p":"R","t":3.864,"v":150},{"b":3,"p":"R","t":3.880,"v":140},{"b":3,"p":"R","t":3.875,"v":137},{"b":3,"p":"R","t":3.867,"v":131},
{"b":3,"p":"R","t":4.186,"v":142},{"b":3,"p":"R","t":4.202,"v":136},{"b":3,"p":"R","t":4.197,"v":134},{"b":3,"p":"R","t":4.189,"v":130},
{"b":3,"p":"R","t":4.522,"v":145},{"b":3,"p":"R","t":4.538,"v":136},{"b":3,"p":"R","t":4.533,"v":133},{"b":3,"p":"R","t":4.525,"v":128},
{"b":3,"p":"R","t":4.873,"v":150},{"b":3,"p":"R","t":4.889,"v":142},{"b":3,"p":"R","t":4.884,"v":139},{"b":3,"p":"R","t":4.876,"v":134},
{"b":3,"p":"R","t":5.209,"v":143},{"b":3,"p":"R","t":5.225,"v":137},{"b":3,"p":"R","t":5.220,"v":134},{"b":3,"p":"R","t":5.212,"v":129},
{"b":3,"p":"R","t":5.550,"v":143},{"b":3,"p":"R","t":5.566,"v":137},{"b":3,"p":"R","t":5.561,"v":134},{"b":3,"p":"R","t":5.553,"v":129},
{"b":3,"p":"R","t":5.891,"v":148},{"b":3,"p":"R","t":5.907,"v":139},{"b":3,"p":"R","t":5.902,"v":136},{"b":3,"p":"R","t":5.894,"v":131},
{"b":3,"p":"R","t":6.232,"v":144},{"b":3,"p":"R","t":6.248,"v":136},{"b":3,"p":"R","t":6.243,"v":133},{"b":3,"p":"R","t":6.235,"v":128},
{"b":3,"p":"R","t":6.573,"v":148},{"b":3,"p":"R","t":6.589,"v":140},{"b":3,"p":"R","t":6.584,"v":137},{"b":3,"p":"R","t":6.576,"v":131},
{"b":3,"p":"R","t":6.904,"v":147},{"b":3,"p":"R","t":6.920,"v":139},{"b":3,"p":"R","t":6.915,"v":136},{"b":3,"p":"R","t":6.907,"v":131},
{"b":3,"p":"R","t":7.220,"v":147},{"b":3,"p":"R","t":7.236,"v":141},{"b":3,"p":"R","t":7.231,"v":138},{"b":3,"p":"R","t":7.223,"v":133},
{"b":3,"p":"R","t":7.551,"v":143},{"b":3,"p":"R","t":7.567,"v":137},{"b":3,"p":"R","t":7.562,"v":135},{"b":3,"p":"R","t":7.554,"v":131}
]},
"vconcat": [
{
 "width": 1596, "height": 308,
 "layer": [
  {"transform": [{"filter": "datum.b == 1"}],
   "mark": {"type": "point", "shape": "M-1,0H1M0,-1V1", "filled": false, "strokeWidth": 2.4, "size": 170, "opacity": 1},
   "encoding": {
    "x": {"field": "t", "type": "quantitative", "scale": {"domain": [-0.0195, 7.755], "nice": false, "zero": false}, "axis": {"orient": "bottom", "values": [0,1,2,3,4,5,6,7], "labels": false, "tickSize": -24, "title": null}},
    "y": {"field": "v", "type": "quantitative", "scale": {"domain": [-6, 229.5], "nice": false, "zero": false}, "axis": {"orient": "left", "values": [0,50,100,150,200], "tickSize": -24, "labelPadding": 41, "title": null}},
    "color": {"field": "p", "type": "nominal", "scale": {"domain": ["B","R"], "range": ["#0000cd","#cd0000"]}, "legend": null},
    "order": {"field": "p", "type": "nominal", "sort": "ascending"}
   }},
  {"data": {"values": [{"label": "VLA: N36-VLA: N12 (1-2)"}]},
   "mark": {"type": "text", "align": "left", "baseline": "alphabetic", "font": "Liberation Sans", "fontWeight": "bold", "fontSize": 43, "color": "#000"},
   "encoding": {
    "text": {"field": "label", "type": "nominal"},
    "x": {"datum": 0.161, "type": "quantitative", "axis": {"orient": "top", "values": [0,1,2,3,4,5,6,7], "labels": false, "tickSize": -24, "title": null}},
    "y": {"datum": 191, "type": "quantitative", "axis": {"orient": "right", "values": [0,50,100,150,200], "labels": false, "tickSize": -24, "title": null}}
   }}
 ],
 "resolve": {"axis": {"x": "independent", "y": "independent"}}
},
{
 "width": 1596, "height": 308,
 "layer": [
  {"transform": [{"filter": "datum.b == 2"}],
   "mark": {"type": "point", "shape": "M-1,0H1M0,-1V1", "filled": false, "strokeWidth": 2.4, "size": 170, "opacity": 1},
   "encoding": {
    "x": {"field": "t", "type": "quantitative", "scale": {"domain": [-0.0195, 7.755], "nice": false, "zero": false}, "axis": {"orient": "bottom", "values": [0,1,2,3,4,5,6,7], "labels": false, "tickSize": -24, "title": null}},
    "y": {"field": "v", "type": "quantitative", "scale": {"domain": [-6, 229.5], "nice": false, "zero": false}, "axis": {"orient": "left", "values": [0,50,100,150,200], "tickSize": -24, "labelPadding": 41, "title": null}},
    "color": {"field": "p", "type": "nominal", "scale": {"domain": ["B","R"], "range": ["#0000cd","#cd0000"]}, "legend": null},
    "order": {"field": "p", "type": "nominal", "sort": "ascending"}
   }},
  {"data": {"values": [{"label": "VLA: N36-VLA: E20 (1-3)"}]},
   "mark": {"type": "text", "align": "left", "baseline": "alphabetic", "font": "Liberation Sans", "fontWeight": "bold", "fontSize": 43, "color": "#000"},
   "encoding": {
    "text": {"field": "label", "type": "nominal"},
    "x": {"datum": 0.161, "type": "quantitative", "axis": {"orient": "top", "values": [0,1,2,3,4,5,6,7], "labels": false, "tickSize": -24, "title": null}},
    "y": {"datum": 191, "type": "quantitative", "axis": {"orient": "right", "values": [0,50,100,150,200], "labels": false, "tickSize": -24, "title": null}}
   }}
 ],
 "resolve": {"axis": {"x": "independent", "y": "independent"}}
},
{
 "width": 1596, "height": 308,
 "layer": [
  {"transform": [{"filter": "datum.b == 3"}],
   "mark": {"type": "point", "shape": "M-1,0H1M0,-1V1", "filled": false, "strokeWidth": 2.4, "size": 170, "opacity": 1},
   "encoding": {
    "x": {"field": "t", "type": "quantitative", "scale": {"domain": [-0.0195, 7.755], "nice": false, "zero": false}, "axis": {"orient": "bottom", "values": [0,1,2,3,4,5,6,7], "labels": false, "tickSize": -24, "title": null}},
    "y": {"field": "v", "type": "quantitative", "scale": {"domain": [-6, 229.5], "nice": false, "zero": false}, "axis": {"orient": "left", "values": [0,50,100,150,200], "tickSize": -24, "labelPadding": 41, "title": "MilliJanskys", "titlePadding": 48}},
    "color": {"field": "p", "type": "nominal", "scale": {"domain": ["B","R"], "range": ["#0000cd","#cd0000"]}, "legend": null},
    "order": {"field": "p", "type": "nominal", "sort": "ascending"}
   }},
  {"data": {"values": [{"label": "VLA: N36-VLA: W04 (1-4)"}]},
   "mark": {"type": "text", "align": "left", "baseline": "alphabetic", "font": "Liberation Sans", "fontWeight": "bold", "fontSize": 43, "color": "#000"},
   "encoding": {
    "text": {"field": "label", "type": "nominal"},
    "x": {"datum": 0.161, "type": "quantitative", "axis": {"orient": "top", "values": [0,1,2,3,4,5,6,7], "labels": false, "tickSize": -24, "title": null}},
    "y": {"datum": 191, "type": "quantitative", "axis": {"orient": "right", "values": [0,50,100,150,200], "labels": false, "tickSize": -24, "title": null}}
   }}
 ],
 "resolve": {"axis": {"x": "independent", "y": "independent"}}
}
]
}
